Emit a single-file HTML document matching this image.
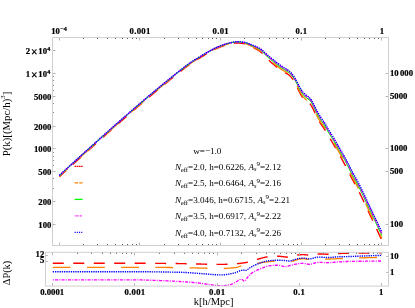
<!DOCTYPE html>
<html><head><meta charset="utf-8"><title>P(k)</title>
<style>html,body{margin:0;padding:0;background:#fff;}svg{display:block;font-family:"Liberation Serif",serif;will-change:transform;}.t{font-weight:bold;font-size:8.7px;fill:#000;stroke:#000;stroke-width:0.22px;}.s{font-weight:bold;font-size:6.1px;fill:#000;}.l{font-size:9.1px;fill:#000;}.a{font-size:10.5px;fill:#000;}</style></head><body>
<svg width="415" height="308" viewBox="0 0 415 308">
<rect x="0" y="0" width="415" height="308" fill="#fff"/>
<defs><clipPath id="ct"><rect x="52.5" y="37.5" width="336.0" height="208.0"/></clipPath><clipPath id="cb"><rect x="45.5" y="252.3" width="343.0" height="33.8"/></clipPath></defs>
<path d="M59.30,176.83 L59.76,176.40 L60.22,175.98 L60.68,175.56 L61.15,175.13 L61.61,174.71 L62.07,174.28 L62.53,173.86 L62.99,173.44 L63.45,173.01 L63.92,172.59 L64.38,172.16 L64.84,171.74 L65.30,171.32 L65.76,170.90 L66.22,170.47 L66.68,170.05 L67.15,169.63 L67.61,169.21 L68.07,168.78 L68.53,168.36 L68.99,167.94 L69.45,167.52 L69.91,167.10 L70.38,166.68 L70.84,166.25 L71.30,165.83 L71.76,165.41 L72.22,164.99 L72.68,164.57 L73.15,164.15 L73.61,163.73 L74.07,163.31 L74.53,162.89 L74.99,162.47 L75.45,162.05 L75.91,161.63 L76.38,161.21 L76.84,160.79 L77.30,160.37 L77.76,159.95 L78.22,159.53 L78.68,159.12 L79.15,158.70 L79.61,158.28 L80.07,157.86 L80.53,157.44 L80.99,157.02 L81.45,156.61 L81.91,156.19 L82.38,155.77 L82.84,155.35 L83.30,154.94 L83.76,154.52 L84.22,154.10 L84.68,153.69 L85.14,153.27 L85.61,152.85 L86.07,152.44 L86.53,152.02 L86.99,151.60 L87.45,151.19 L87.91,150.77 L88.38,150.36 L88.84,149.94 L89.30,149.52 L89.76,149.11 L90.22,148.69 L90.68,148.28 L91.14,147.86 L91.61,147.45 L92.07,147.03 L92.53,146.62 L92.99,146.21 L93.45,145.79 L93.91,145.38 L94.38,144.96 L94.84,144.55 L95.30,144.14 L95.76,143.72 L96.22,143.31 L96.68,142.90 L97.14,142.48 L97.61,142.07 L98.07,141.66 L98.53,141.24 L98.99,140.83 L99.45,140.42 L99.91,140.01 L100.37,139.59 L100.84,139.18 L101.30,138.77 L101.76,138.36 L102.22,137.95 L102.68,137.54 L103.14,137.12 L103.61,136.71 L104.07,136.30 L104.53,135.89 L104.99,135.48 L105.45,135.07 L105.91,134.66 L106.37,134.25 L106.84,133.83 L107.30,133.42 L107.76,133.01 L108.22,132.60 L108.68,132.19 L109.14,131.78 L109.61,131.37 L110.07,130.96 L110.53,130.55 L110.99,130.14 L111.45,129.73 L111.91,129.33 L112.37,128.92 L112.84,128.51 L113.30,128.10 L113.76,127.69 L114.22,127.28 L114.68,126.87 L115.14,126.47 L115.61,126.06 L116.07,125.65 L116.53,125.24 L116.99,124.84 L117.45,124.43 L117.91,124.02 L118.37,123.62 L118.84,123.21 L119.30,122.80 L119.76,122.40 L120.22,121.99 L120.68,121.59 L121.14,121.18 L121.60,120.78 L122.07,120.37 L122.53,119.97 L122.99,119.56 L123.45,119.16 L123.91,118.76 L124.37,118.35 L124.84,117.95 L125.30,117.55 L125.76,117.14 L126.22,116.74 L126.68,116.34 L127.14,115.94 L127.60,115.53 L128.07,115.13 L128.53,114.73 L128.99,114.33 L129.45,113.93 L129.91,113.53 L130.37,113.13 L130.84,112.73 L131.30,112.33 L131.76,111.93 L132.22,111.53 L132.68,111.13 L133.14,110.73 L133.60,110.34 L134.07,109.94 L134.53,109.54 L134.99,109.14 L135.45,108.74 L135.91,108.35 L136.37,107.95 L136.83,107.55 L137.30,107.16 L137.76,106.76 L138.22,106.36 L138.68,105.97 L139.14,105.57 L139.60,105.18 L140.07,104.78 L140.53,104.39 L140.99,103.99 L141.45,103.60 L141.91,103.20 L142.37,102.81 L142.83,102.41 L143.30,102.02 L143.76,101.63 L144.22,101.23 L144.68,100.84 L145.14,100.45 L145.60,100.06 L146.07,99.67 L146.53,99.27 L146.99,98.88 L147.45,98.49 L147.91,98.10 L148.37,97.71 L148.83,97.32 L149.30,96.93 L149.76,96.54 L150.22,96.15 L150.68,95.76 L151.14,95.37 L151.60,94.98 L152.06,94.60 L152.53,94.21 L152.99,93.82 L153.45,93.43 L153.91,93.05 L154.37,92.66 L154.83,92.28 L155.30,91.89 L155.76,91.50 L156.22,91.12 L156.68,90.74 L157.14,90.35 L157.60,89.97 L158.06,89.58 L158.53,89.20 L158.99,88.82 L159.45,88.44 L159.91,88.05 L160.37,87.67 L160.83,87.29 L161.30,86.91 L161.76,86.53 L162.22,86.14 L162.68,85.76 L163.14,85.38 L163.60,85.00 L164.06,84.62 L164.53,84.24 L164.99,83.86 L165.45,83.48 L165.91,83.11 L166.37,82.73 L166.83,82.35 L167.29,81.97 L167.76,81.60 L168.22,81.22 L168.68,80.84 L169.14,80.47 L169.60,80.09 L170.06,79.72 L170.53,79.34 L170.99,78.97 L171.45,78.60 L171.91,78.23 L172.37,77.86 L172.83,77.48 L173.29,77.11 L173.76,76.75 L174.22,76.38 L174.68,76.01 L175.14,75.64 L175.60,75.27 L176.06,74.91 L176.53,74.54 L176.99,74.18 L177.45,73.82 L177.91,73.45 L178.37,73.09 L178.83,72.73 L179.29,72.36 L179.76,72.00 L180.22,71.63 L180.68,71.27 L181.14,70.90 L181.60,70.54 L182.06,70.17 L182.52,69.81 L182.99,69.45 L183.45,69.09 L183.91,68.73 L184.37,68.37 L184.83,68.02 L185.29,67.66 L185.76,67.31 L186.22,66.96 L186.68,66.62 L187.14,66.27 L187.60,65.93 L188.06,65.60 L188.52,65.26 L188.99,64.93 L189.45,64.61 L189.91,64.28 L190.37,63.96 L190.83,63.65 L191.29,63.34 L191.76,63.03 L192.22,62.73 L192.68,62.43 L193.14,62.13 L193.60,61.84 L194.06,61.54 L194.52,61.25 L194.99,60.96 L195.45,60.67 L195.91,60.39 L196.37,60.10 L196.83,59.82 L197.29,59.53 L197.75,59.25 L198.22,58.96 L198.68,58.68 L199.14,58.39 L199.60,58.10 L200.06,57.82 L200.52,57.53 L200.99,57.24 L201.45,56.94 L201.91,56.65 L202.37,56.36 L202.83,56.08 L203.29,55.80 L203.75,55.52 L204.22,55.25 L204.68,54.98 L205.14,54.72 L205.60,54.46 L206.06,54.19 L206.52,53.93 L206.99,53.67 L207.45,53.41 L207.91,53.14 L208.37,52.88 L208.83,52.62 L209.29,52.36 L209.75,52.11 L210.22,51.85 L210.68,51.60 L211.14,51.35 L211.60,51.10 L212.06,50.85 L212.52,50.60 L212.98,50.36 L213.45,50.12 L213.91,49.88 L214.37,49.65 L214.83,49.41 L215.29,49.19 L215.75,48.96 L216.22,48.74 L216.68,48.52 L217.14,48.31 L217.60,48.10 L218.06,47.90 L218.52,47.70 L218.98,47.51 L219.45,47.32 L219.91,47.13 L220.37,46.95 L220.83,46.78 L221.29,46.60 L221.75,46.43 L222.22,46.26 L222.68,46.09 L223.14,45.92 L223.60,45.76 L224.06,45.60 L224.52,45.44 L224.98,45.29 L225.45,45.14 L225.91,44.99 L226.37,44.85 L226.83,44.72 L227.29,44.59 L227.75,44.47 L228.22,44.35 L228.68,44.24 L229.14,44.14 L229.60,44.04 L230.06,43.95 L230.52,43.86 L230.98,43.77 L231.45,43.68 L231.91,43.59 L232.37,43.51 L232.83,43.42 L233.29,43.34 L233.75,43.27 L234.21,43.20 L234.68,43.14 L235.14,43.08 L235.60,43.04 L236.06,43.00 L236.52,42.98 L236.98,42.97 L237.45,42.97 L237.91,42.99 L238.37,43.01 L238.83,43.03 L239.29,43.07 L239.75,43.11 L240.21,43.15 L240.68,43.20 L241.14,43.26 L241.60,43.32 L242.06,43.39 L242.52,43.45 L242.98,43.52 L243.45,43.59 L243.91,43.67 L244.37,43.75 L244.83,43.85 L245.29,43.97 L245.75,44.10 L246.21,44.26 L246.68,44.43 L247.14,44.60 L247.60,44.78 L248.06,44.96 L248.52,45.16 L248.98,45.37 L249.44,45.59 L249.91,45.81 L250.37,46.03 L250.83,46.25 L251.29,46.46 L251.75,46.68 L252.21,46.90 L252.68,47.12 L253.14,47.35 L253.60,47.57 L254.06,47.80 L254.52,48.04 L254.98,48.27 L255.44,48.52 L255.91,48.77 L256.37,49.03 L256.83,49.30 L257.29,49.57 L257.75,49.85 L258.21,50.14 L258.68,50.44 L259.14,50.75 L259.60,51.06 L260.06,51.39 L260.52,51.74 L260.98,52.13 L261.44,52.55 L261.91,52.99 L262.37,53.45 L262.83,53.94 L263.29,54.44 L263.75,54.95 L264.21,55.46 L264.67,55.98 L265.14,56.50 L265.60,57.01 L266.06,57.52 L266.52,58.01 L266.98,58.48 L267.44,58.94 L267.91,59.38 L268.37,59.82 L268.83,60.25 L269.29,60.68 L269.75,61.10 L270.21,61.51 L270.67,61.91 L271.14,62.32 L271.60,62.72 L272.06,63.12 L272.52,63.52 L272.98,63.92 L273.44,64.31 L273.91,64.70 L274.37,65.09 L274.83,65.48 L275.29,65.86 L275.75,66.24 L276.21,66.63 L276.67,67.00 L277.14,67.38 L277.60,67.75 L278.06,68.11 L278.52,68.47 L278.98,68.83 L279.44,69.18 L279.90,69.52 L280.37,69.85 L280.83,70.18 L281.29,70.50 L281.75,70.81 L282.21,71.10 L282.67,71.38 L283.14,71.65 L283.60,71.90 L284.06,72.15 L284.52,72.39 L284.98,72.63 L285.44,72.87 L285.90,73.11 L286.37,73.35 L286.83,73.61 L287.29,73.87 L287.75,74.15 L288.21,74.45 L288.67,74.77 L289.14,75.12 L289.60,75.50 L290.06,75.91 L290.52,76.37 L290.98,76.86 L291.44,77.39 L291.90,77.96 L292.37,78.56 L292.83,79.21 L293.29,79.90 L293.75,80.65 L294.21,81.45 L294.67,82.30 L295.13,83.19 L295.60,84.10 L296.06,85.02 L296.52,85.94 L296.98,86.87 L297.44,87.84 L297.90,88.84 L298.37,89.85 L298.83,90.84 L299.29,91.77 L299.75,92.65 L300.21,93.53 L300.67,94.38 L301.13,95.21 L301.60,95.99 L302.06,96.73 L302.52,97.40 L302.98,97.99 L303.44,98.52 L303.90,99.01 L304.37,99.45 L304.83,99.87 L305.29,100.27 L305.75,100.66 L306.21,101.05 L306.67,101.41 L307.13,101.73 L307.60,102.04 L308.06,102.33 L308.52,102.64 L308.98,102.97 L309.44,103.33 L309.90,103.74 L310.36,104.22 L310.83,104.80 L311.29,105.50 L311.75,106.30 L312.21,107.16 L312.67,108.07 L313.13,108.99 L313.60,109.91 L314.06,110.88 L314.52,111.89 L314.98,112.92 L315.44,113.97 L315.90,115.01 L316.36,116.02 L316.83,116.99 L317.29,117.90 L317.75,118.78 L318.21,119.63 L318.67,120.45 L319.13,121.24 L319.60,122.01 L320.06,122.74 L320.52,123.47 L320.98,124.18 L321.44,124.86 L321.90,125.53 L322.36,126.18 L322.83,126.82 L323.29,127.47 L323.75,128.13 L324.21,128.80 L324.67,129.50 L325.13,130.23 L325.59,131.02 L326.06,131.84 L326.52,132.66 L326.98,133.45 L327.44,134.23 L327.90,135.00 L328.36,135.77 L328.83,136.54 L329.29,137.30 L329.75,138.06 L330.21,138.83 L330.67,139.60 L331.13,140.37 L331.59,141.14 L332.06,141.92 L332.52,142.70 L332.98,143.49 L333.44,144.28 L333.90,145.07 L334.36,145.87 L334.83,146.67 L335.29,147.48 L335.75,148.30 L336.21,149.12 L336.67,149.95 L337.13,150.77 L337.59,151.60 L338.06,152.42 L338.52,153.24 L338.98,154.06 L339.44,154.87 L339.90,155.69 L340.36,156.50 L340.83,157.32 L341.29,158.14 L341.75,158.96 L342.21,159.79 L342.67,160.62 L343.13,161.46 L343.59,162.29 L344.06,163.14 L344.52,163.99 L344.98,164.84 L345.44,165.70 L345.90,166.56 L346.36,167.44 L346.82,168.33 L347.29,169.23 L347.75,170.15 L348.21,171.08 L348.67,172.02 L349.13,172.96 L349.59,173.90 L350.06,174.83 L350.52,175.76 L350.98,176.68 L351.44,177.59 L351.90,178.48 L352.36,179.34 L352.82,180.19 L353.29,181.03 L353.75,181.85 L354.21,182.67 L354.67,183.49 L355.13,184.30 L355.59,185.13 L356.06,185.96 L356.52,186.81 L356.98,187.67 L357.44,188.56 L357.90,189.46 L358.36,190.36 L358.82,191.28 L359.29,192.20 L359.75,193.14 L360.21,194.08 L360.67,195.02 L361.13,195.97 L361.59,196.93 L362.05,197.90 L362.52,198.87 L362.98,199.84 L363.44,200.82 L363.90,201.80 L364.36,202.78 L364.82,203.77 L365.29,204.75 L365.75,205.74 L366.21,206.73 L366.67,207.72 L367.13,208.71 L367.59,209.70 L368.05,210.69 L368.52,211.68 L368.98,212.66 L369.44,213.65 L369.90,214.63 L370.36,215.60 L370.82,216.58 L371.29,217.56 L371.75,218.54 L372.21,219.53 L372.67,220.51 L373.13,221.50 L373.59,222.48 L374.05,223.47 L374.52,224.46 L374.98,225.45 L375.44,226.44 L375.90,227.43 L376.36,228.42 L376.82,229.41 L377.28,230.41 L377.75,231.40 L378.21,232.40 L378.67,233.40 L379.13,234.39 L379.59,235.39 L380.05,236.39 L380.52,237.39 L380.98,238.40 L381.44,239.40 L381.90,240.40" fill="none" stroke="#ff0000" stroke-width="1.4" stroke-dasharray="11 9.33" stroke-dashoffset="2.0" clip-path="url(#ct)"/>
<path d="M59.30,176.45 L59.76,176.02 L60.22,175.60 L60.68,175.17 L61.15,174.75 L61.61,174.32 L62.07,173.90 L62.53,173.48 L62.99,173.05 L63.45,172.63 L63.92,172.20 L64.38,171.78 L64.84,171.36 L65.30,170.93 L65.76,170.51 L66.22,170.09 L66.68,169.67 L67.15,169.24 L67.61,168.82 L68.07,168.40 L68.53,167.98 L68.99,167.56 L69.45,167.13 L69.91,166.71 L70.38,166.29 L70.84,165.87 L71.30,165.45 L71.76,165.03 L72.22,164.61 L72.68,164.19 L73.15,163.77 L73.61,163.35 L74.07,162.93 L74.53,162.51 L74.99,162.09 L75.45,161.67 L75.91,161.25 L76.38,160.83 L76.84,160.41 L77.30,159.99 L77.76,159.57 L78.22,159.15 L78.68,158.73 L79.15,158.31 L79.61,157.89 L80.07,157.48 L80.53,157.06 L80.99,156.64 L81.45,156.22 L81.91,155.80 L82.38,155.39 L82.84,154.97 L83.30,154.55 L83.76,154.14 L84.22,153.72 L84.68,153.30 L85.14,152.88 L85.61,152.47 L86.07,152.05 L86.53,151.64 L86.99,151.22 L87.45,150.80 L87.91,150.39 L88.38,149.97 L88.84,149.56 L89.30,149.14 L89.76,148.73 L90.22,148.31 L90.68,147.90 L91.14,147.48 L91.61,147.07 L92.07,146.65 L92.53,146.24 L92.99,145.82 L93.45,145.41 L93.91,144.99 L94.38,144.58 L94.84,144.17 L95.30,143.75 L95.76,143.34 L96.22,142.93 L96.68,142.51 L97.14,142.10 L97.61,141.69 L98.07,141.27 L98.53,140.86 L98.99,140.45 L99.45,140.04 L99.91,139.62 L100.37,139.21 L100.84,138.80 L101.30,138.39 L101.76,137.97 L102.22,137.56 L102.68,137.15 L103.14,136.74 L103.61,136.33 L104.07,135.92 L104.53,135.51 L104.99,135.09 L105.45,134.68 L105.91,134.27 L106.37,133.86 L106.84,133.45 L107.30,133.04 L107.76,132.63 L108.22,132.22 L108.68,131.81 L109.14,131.40 L109.61,130.99 L110.07,130.58 L110.53,130.17 L110.99,129.76 L111.45,129.35 L111.91,128.94 L112.37,128.53 L112.84,128.12 L113.30,127.72 L113.76,127.31 L114.22,126.90 L114.68,126.49 L115.14,126.08 L115.61,125.68 L116.07,125.27 L116.53,124.86 L116.99,124.45 L117.45,124.05 L117.91,123.64 L118.37,123.23 L118.84,122.83 L119.30,122.42 L119.76,122.01 L120.22,121.61 L120.68,121.20 L121.14,120.80 L121.60,120.39 L122.07,119.99 L122.53,119.58 L122.99,119.18 L123.45,118.78 L123.91,118.37 L124.37,117.97 L124.84,117.56 L125.30,117.16 L125.76,116.76 L126.22,116.36 L126.68,115.95 L127.14,115.55 L127.60,115.15 L128.07,114.75 L128.53,114.35 L128.99,113.95 L129.45,113.55 L129.91,113.15 L130.37,112.74 L130.84,112.35 L131.30,111.95 L131.76,111.55 L132.22,111.15 L132.68,110.75 L133.14,110.35 L133.60,109.95 L134.07,109.55 L134.53,109.16 L134.99,108.76 L135.45,108.36 L135.91,107.96 L136.37,107.57 L136.83,107.17 L137.30,106.77 L137.76,106.38 L138.22,105.98 L138.68,105.58 L139.14,105.19 L139.60,104.79 L140.07,104.40 L140.53,104.00 L140.99,103.61 L141.45,103.21 L141.91,102.82 L142.37,102.43 L142.83,102.03 L143.30,101.64 L143.76,101.25 L144.22,100.85 L144.68,100.46 L145.14,100.07 L145.60,99.68 L146.07,99.28 L146.53,98.89 L146.99,98.50 L147.45,98.11 L147.91,97.72 L148.37,97.33 L148.83,96.94 L149.30,96.55 L149.76,96.16 L150.22,95.77 L150.68,95.38 L151.14,94.99 L151.60,94.61 L152.06,94.22 L152.53,93.83 L152.99,93.44 L153.45,93.06 L153.91,92.67 L154.37,92.28 L154.83,91.90 L155.30,91.51 L155.76,91.13 L156.22,90.74 L156.68,90.36 L157.14,89.98 L157.60,89.59 L158.06,89.21 L158.53,88.83 L158.99,88.44 L159.45,88.06 L159.91,87.68 L160.37,87.30 L160.83,86.92 L161.30,86.53 L161.76,86.15 L162.22,85.77 L162.68,85.39 L163.14,85.01 L163.60,84.63 L164.06,84.25 L164.53,83.87 L164.99,83.49 L165.45,83.12 L165.91,82.74 L166.37,82.36 L166.83,81.98 L167.29,81.60 L167.76,81.23 L168.22,80.85 L168.68,80.48 L169.14,80.10 L169.60,79.73 L170.06,79.35 L170.53,78.98 L170.99,78.61 L171.45,78.23 L171.91,77.86 L172.37,77.49 L172.83,77.12 L173.29,76.75 L173.76,76.38 L174.22,76.01 L174.68,75.65 L175.14,75.28 L175.60,74.91 L176.06,74.55 L176.53,74.18 L176.99,73.82 L177.45,73.46 L177.91,73.09 L178.37,72.73 L178.83,72.37 L179.29,72.00 L179.76,71.64 L180.22,71.28 L180.68,70.91 L181.14,70.55 L181.60,70.18 L182.06,69.82 L182.52,69.46 L182.99,69.10 L183.45,68.74 L183.91,68.38 L184.37,68.02 L184.83,67.67 L185.29,67.31 L185.76,66.96 L186.22,66.61 L186.68,66.27 L187.14,65.92 L187.60,65.58 L188.06,65.25 L188.52,64.91 L188.99,64.58 L189.45,64.26 L189.91,63.93 L190.37,63.62 L190.83,63.30 L191.29,62.99 L191.76,62.69 L192.22,62.38 L192.68,62.08 L193.14,61.79 L193.60,61.49 L194.06,61.20 L194.52,60.91 L194.99,60.62 L195.45,60.33 L195.91,60.05 L196.37,59.76 L196.83,59.48 L197.29,59.19 L197.75,58.91 L198.22,58.62 L198.68,58.34 L199.14,58.05 L199.60,57.77 L200.06,57.48 L200.52,57.19 L200.99,56.90 L201.45,56.61 L201.91,56.32 L202.37,56.03 L202.83,55.74 L203.29,55.46 L203.75,55.19 L204.22,54.91 L204.68,54.65 L205.14,54.39 L205.60,54.12 L206.06,53.86 L206.52,53.60 L206.99,53.34 L207.45,53.08 L207.91,52.82 L208.37,52.55 L208.83,52.30 L209.29,52.04 L209.75,51.78 L210.22,51.53 L210.68,51.27 L211.14,51.02 L211.60,50.77 L212.06,50.52 L212.52,50.28 L212.98,50.03 L213.45,49.79 L213.91,49.56 L214.37,49.32 L214.83,49.09 L215.29,48.86 L215.75,48.64 L216.22,48.42 L216.68,48.20 L217.14,47.99 L217.60,47.78 L218.06,47.58 L218.52,47.38 L218.98,47.18 L219.45,46.99 L219.91,46.81 L220.37,46.63 L220.83,46.45 L221.29,46.28 L221.75,46.11 L222.22,45.93 L222.68,45.77 L223.14,45.60 L223.60,45.44 L224.06,45.27 L224.52,45.12 L224.98,44.96 L225.45,44.81 L225.91,44.67 L226.37,44.53 L226.83,44.39 L227.29,44.26 L227.75,44.14 L228.22,44.02 L228.68,43.91 L229.14,43.81 L229.60,43.71 L230.06,43.62 L230.52,43.54 L230.98,43.45 L231.45,43.36 L231.91,43.27 L232.37,43.18 L232.83,43.10 L233.29,43.02 L233.75,42.94 L234.21,42.87 L234.68,42.81 L235.14,42.76 L235.60,42.71 L236.06,42.68 L236.52,42.65 L236.98,42.64 L237.45,42.65 L237.91,42.66 L238.37,42.68 L238.83,42.71 L239.29,42.74 L239.75,42.79 L240.21,42.84 L240.68,42.89 L241.14,42.95 L241.60,43.02 L242.06,43.10 L242.52,43.19 L242.98,43.27 L243.45,43.35 L243.91,43.41 L244.37,43.48 L244.83,43.57 L245.29,43.68 L245.75,43.81 L246.21,43.95 L246.68,44.10 L247.14,44.26 L247.60,44.42 L248.06,44.60 L248.52,44.78 L248.98,44.98 L249.44,45.18 L249.91,45.39 L250.37,45.60 L250.83,45.82 L251.29,46.04 L251.75,46.26 L252.21,46.49 L252.68,46.71 L253.14,46.93 L253.60,47.14 L254.06,47.36 L254.52,47.58 L254.98,47.81 L255.44,48.04 L255.91,48.28 L256.37,48.52 L256.83,48.77 L257.29,49.03 L257.75,49.29 L258.21,49.56 L258.68,49.84 L259.14,50.13 L259.60,50.43 L260.06,50.74 L260.52,51.07 L260.98,51.44 L261.44,51.84 L261.91,52.26 L262.37,52.70 L262.83,53.16 L263.29,53.63 L263.75,54.11 L264.21,54.60 L264.67,55.09 L265.14,55.58 L265.60,56.07 L266.06,56.55 L266.52,57.01 L266.98,57.46 L267.44,57.89 L267.91,58.31 L268.37,58.73 L268.83,59.15 L269.29,59.56 L269.75,59.96 L270.21,60.36 L270.67,60.76 L271.14,61.16 L271.60,61.56 L272.06,61.95 L272.52,62.34 L272.98,62.73 L273.44,63.12 L273.91,63.50 L274.37,63.88 L274.83,64.26 L275.29,64.64 L275.75,65.01 L276.21,65.39 L276.67,65.76 L277.14,66.13 L277.60,66.50 L278.06,66.86 L278.52,67.22 L278.98,67.57 L279.44,67.93 L279.90,68.27 L280.37,68.61 L280.83,68.95 L281.29,69.28 L281.75,69.60 L282.21,69.92 L282.67,70.21 L283.14,70.50 L283.60,70.77 L284.06,71.04 L284.52,71.29 L284.98,71.55 L285.44,71.81 L285.90,72.07 L286.37,72.33 L286.83,72.60 L287.29,72.88 L287.75,73.17 L288.21,73.48 L288.67,73.81 L289.14,74.16 L289.60,74.54 L290.06,74.96 L290.52,75.41 L290.98,75.89 L291.44,76.41 L291.90,76.95 L292.37,77.53 L292.83,78.15 L293.29,78.79 L293.75,79.51 L294.21,80.28 L294.67,81.09 L295.13,81.94 L295.60,82.82 L296.06,83.72 L296.52,84.62 L296.98,85.52 L297.44,86.47 L297.90,87.46 L298.37,88.46 L298.83,89.44 L299.29,90.36 L299.75,91.25 L300.21,92.14 L300.67,93.00 L301.13,93.82 L301.60,94.60 L302.06,95.34 L302.52,96.01 L302.98,96.60 L303.44,97.14 L303.90,97.63 L304.37,98.08 L304.83,98.51 L305.29,98.92 L305.75,99.32 L306.21,99.72 L306.67,100.08 L307.13,100.41 L307.60,100.71 L308.06,101.00 L308.52,101.30 L308.98,101.62 L309.44,101.98 L309.90,102.38 L310.36,102.86 L310.83,103.44 L311.29,104.13 L311.75,104.93 L312.21,105.79 L312.67,106.69 L313.13,107.60 L313.60,108.50 L314.06,109.46 L314.52,110.46 L314.98,111.48 L315.44,112.51 L315.90,113.54 L316.36,114.54 L316.83,115.49 L317.29,116.39 L317.75,117.26 L318.21,118.10 L318.67,118.91 L319.13,119.70 L319.60,120.46 L320.06,121.19 L320.52,121.91 L320.98,122.62 L321.44,123.29 L321.90,123.94 L322.36,124.57 L322.83,125.19 L323.29,125.82 L323.75,126.45 L324.21,127.11 L324.67,127.79 L325.13,128.51 L325.59,129.29 L326.06,130.11 L326.52,130.93 L326.98,131.73 L327.44,132.52 L327.90,133.30 L328.36,134.07 L328.83,134.84 L329.29,135.61 L329.75,136.38 L330.21,137.14 L330.67,137.91 L331.13,138.67 L331.59,139.43 L332.06,140.20 L332.52,140.97 L332.98,141.74 L333.44,142.51 L333.90,143.29 L334.36,144.07 L334.83,144.85 L335.29,145.64 L335.75,146.44 L336.21,147.24 L336.67,148.05 L337.13,148.86 L337.59,149.67 L338.06,150.47 L338.52,151.28 L338.98,152.09 L339.44,152.90 L339.90,153.71 L340.36,154.52 L340.83,155.34 L341.29,156.16 L341.75,156.98 L342.21,157.80 L342.67,158.63 L343.13,159.46 L343.59,160.30 L344.06,161.14 L344.52,161.99 L344.98,162.84 L345.44,163.70 L345.90,164.56 L346.36,165.44 L346.82,166.33 L347.29,167.23 L347.75,168.15 L348.21,169.08 L348.67,170.02 L349.13,170.96 L349.59,171.90 L350.06,172.84 L350.52,173.77 L350.98,174.69 L351.44,175.59 L351.90,176.48 L352.36,177.35 L352.82,178.20 L353.29,179.04 L353.75,179.87 L354.21,180.69 L354.67,181.50 L355.13,182.32 L355.59,183.14 L356.06,183.98 L356.52,184.83 L356.98,185.69 L357.44,186.58 L357.90,187.48 L358.36,188.39 L358.82,189.30 L359.29,190.23 L359.75,191.16 L360.21,192.10 L360.67,193.05 L361.13,194.00 L361.59,194.96 L362.05,195.92 L362.52,196.89 L362.98,197.86 L363.44,198.84 L363.90,199.82 L364.36,200.80 L364.82,201.79 L365.29,202.78 L365.75,203.77 L366.21,204.75 L366.67,205.74 L367.13,206.73 L367.59,207.72 L368.05,208.71 L368.52,209.70 L368.98,210.68 L369.44,211.67 L369.90,212.65 L370.36,213.63 L370.82,214.60 L371.29,215.58 L371.75,216.57 L372.21,217.55 L372.67,218.53 L373.13,219.52 L373.59,220.50 L374.05,221.49 L374.52,222.48 L374.98,223.46 L375.44,224.45 L375.90,225.44 L376.36,226.44 L376.82,227.43 L377.28,228.42 L377.75,229.42 L378.21,230.41 L378.67,231.41 L379.13,232.41 L379.59,233.41 L380.05,234.41 L380.52,235.41 L380.98,236.41 L381.44,237.41 L381.90,238.42" fill="none" stroke="#ff8000" stroke-width="1.3" stroke-dasharray="17.8 16.4" stroke-dashoffset="6.5" clip-path="url(#ct)"/>
<path d="M59.30,175.76 L59.76,175.34 L60.22,174.91 L60.68,174.49 L61.15,174.07 L61.61,173.64 L62.07,173.22 L62.53,172.79 L62.99,172.37 L63.45,171.95 L63.92,171.52 L64.38,171.10 L64.84,170.68 L65.30,170.25 L65.76,169.83 L66.22,169.41 L66.68,168.98 L67.15,168.56 L67.61,168.14 L68.07,167.72 L68.53,167.30 L68.99,166.87 L69.45,166.45 L69.91,166.03 L70.38,165.61 L70.84,165.19 L71.30,164.77 L71.76,164.35 L72.22,163.93 L72.68,163.51 L73.15,163.08 L73.61,162.66 L74.07,162.24 L74.53,161.82 L74.99,161.40 L75.45,160.98 L75.91,160.56 L76.38,160.15 L76.84,159.73 L77.30,159.31 L77.76,158.89 L78.22,158.47 L78.68,158.05 L79.15,157.63 L79.61,157.21 L80.07,156.80 L80.53,156.38 L80.99,155.96 L81.45,155.54 L81.91,155.12 L82.38,154.71 L82.84,154.29 L83.30,153.87 L83.76,153.45 L84.22,153.04 L84.68,152.62 L85.14,152.20 L85.61,151.79 L86.07,151.37 L86.53,150.95 L86.99,150.54 L87.45,150.12 L87.91,149.71 L88.38,149.29 L88.84,148.87 L89.30,148.46 L89.76,148.04 L90.22,147.63 L90.68,147.21 L91.14,146.80 L91.61,146.38 L92.07,145.97 L92.53,145.56 L92.99,145.14 L93.45,144.73 L93.91,144.31 L94.38,143.90 L94.84,143.48 L95.30,143.07 L95.76,142.66 L96.22,142.24 L96.68,141.83 L97.14,141.42 L97.61,141.00 L98.07,140.59 L98.53,140.18 L98.99,139.77 L99.45,139.35 L99.91,138.94 L100.37,138.53 L100.84,138.12 L101.30,137.71 L101.76,137.29 L102.22,136.88 L102.68,136.47 L103.14,136.06 L103.61,135.65 L104.07,135.24 L104.53,134.82 L104.99,134.41 L105.45,134.00 L105.91,133.59 L106.37,133.18 L106.84,132.77 L107.30,132.36 L107.76,131.95 L108.22,131.54 L108.68,131.13 L109.14,130.72 L109.61,130.31 L110.07,129.90 L110.53,129.49 L110.99,129.08 L111.45,128.67 L111.91,128.26 L112.37,127.85 L112.84,127.44 L113.30,127.03 L113.76,126.63 L114.22,126.22 L114.68,125.81 L115.14,125.40 L115.61,124.99 L116.07,124.59 L116.53,124.18 L116.99,123.77 L117.45,123.36 L117.91,122.96 L118.37,122.55 L118.84,122.15 L119.30,121.74 L119.76,121.33 L120.22,120.93 L120.68,120.52 L121.14,120.12 L121.60,119.71 L122.07,119.31 L122.53,118.90 L122.99,118.50 L123.45,118.09 L123.91,117.69 L124.37,117.29 L124.84,116.88 L125.30,116.48 L125.76,116.08 L126.22,115.67 L126.68,115.27 L127.14,114.87 L127.60,114.47 L128.07,114.07 L128.53,113.67 L128.99,113.26 L129.45,112.86 L129.91,112.46 L130.37,112.06 L130.84,111.66 L131.30,111.26 L131.76,110.86 L132.22,110.47 L132.68,110.07 L133.14,109.67 L133.60,109.27 L134.07,108.87 L134.53,108.47 L134.99,108.08 L135.45,107.68 L135.91,107.28 L136.37,106.89 L136.83,106.49 L137.30,106.09 L137.76,105.70 L138.22,105.30 L138.68,104.90 L139.14,104.51 L139.60,104.11 L140.07,103.72 L140.53,103.32 L140.99,102.93 L141.45,102.53 L141.91,102.14 L142.37,101.75 L142.83,101.35 L143.30,100.96 L143.76,100.57 L144.22,100.17 L144.68,99.78 L145.14,99.39 L145.60,99.00 L146.07,98.60 L146.53,98.21 L146.99,97.82 L147.45,97.43 L147.91,97.04 L148.37,96.65 L148.83,96.26 L149.30,95.87 L149.76,95.48 L150.22,95.09 L150.68,94.70 L151.14,94.32 L151.60,93.93 L152.06,93.54 L152.53,93.15 L152.99,92.77 L153.45,92.38 L153.91,91.99 L154.37,91.61 L154.83,91.22 L155.30,90.84 L155.76,90.45 L156.22,90.07 L156.68,89.68 L157.14,89.30 L157.60,88.92 L158.06,88.54 L158.53,88.15 L158.99,87.77 L159.45,87.39 L159.91,87.01 L160.37,86.63 L160.83,86.24 L161.30,85.86 L161.76,85.48 L162.22,85.10 L162.68,84.72 L163.14,84.34 L163.60,83.96 L164.06,83.58 L164.53,83.20 L164.99,82.82 L165.45,82.45 L165.91,82.07 L166.37,81.69 L166.83,81.31 L167.29,80.94 L167.76,80.56 L168.22,80.19 L168.68,79.81 L169.14,79.44 L169.60,79.06 L170.06,78.69 L170.53,78.31 L170.99,77.94 L171.45,77.57 L171.91,77.20 L172.37,76.83 L172.83,76.46 L173.29,76.09 L173.76,75.72 L174.22,75.35 L174.68,74.99 L175.14,74.62 L175.60,74.25 L176.06,73.89 L176.53,73.52 L176.99,73.16 L177.45,72.80 L177.91,72.43 L178.37,72.07 L178.83,71.71 L179.29,71.35 L179.76,70.98 L180.22,70.62 L180.68,70.25 L181.14,69.89 L181.60,69.53 L182.06,69.16 L182.52,68.80 L182.99,68.44 L183.45,68.08 L183.91,67.72 L184.37,67.37 L184.83,67.01 L185.29,66.66 L185.76,66.31 L186.22,65.96 L186.68,65.62 L187.14,65.27 L187.60,64.93 L188.06,64.60 L188.52,64.26 L188.99,63.94 L189.45,63.61 L189.91,63.29 L190.37,62.97 L190.83,62.66 L191.29,62.35 L191.76,62.04 L192.22,61.74 L192.68,61.44 L193.14,61.15 L193.60,60.85 L194.06,60.56 L194.52,60.27 L194.99,59.98 L195.45,59.70 L195.91,59.41 L196.37,59.13 L196.83,58.84 L197.29,58.56 L197.75,58.28 L198.22,58.00 L198.68,57.71 L199.14,57.43 L199.60,57.14 L200.06,56.86 L200.52,56.57 L200.99,56.28 L201.45,55.99 L201.91,55.70 L202.37,55.41 L202.83,55.13 L203.29,54.85 L203.75,54.57 L204.22,54.30 L204.68,54.04 L205.14,53.78 L205.60,53.52 L206.06,53.25 L206.52,52.99 L206.99,52.73 L207.45,52.47 L207.91,52.21 L208.37,51.95 L208.83,51.69 L209.29,51.44 L209.75,51.18 L210.22,50.93 L210.68,50.67 L211.14,50.42 L211.60,50.17 L212.06,49.93 L212.52,49.68 L212.98,49.44 L213.45,49.20 L213.91,48.97 L214.37,48.73 L214.83,48.50 L215.29,48.28 L215.75,48.05 L216.22,47.83 L216.68,47.62 L217.14,47.40 L217.60,47.20 L218.06,46.99 L218.52,46.80 L218.98,46.60 L219.45,46.41 L219.91,46.23 L220.37,46.05 L220.83,45.87 L221.29,45.70 L221.75,45.53 L222.22,45.36 L222.68,45.19 L223.14,45.02 L223.60,44.86 L224.06,44.70 L224.52,44.54 L224.98,44.39 L225.45,44.24 L225.91,44.09 L226.37,43.95 L226.83,43.82 L227.29,43.69 L227.75,43.56 L228.22,43.45 L228.68,43.33 L229.14,43.23 L229.60,43.13 L230.06,43.04 L230.52,42.95 L230.98,42.85 L231.45,42.76 L231.91,42.67 L232.37,42.58 L232.83,42.49 L233.29,42.41 L233.75,42.33 L234.21,42.26 L234.68,42.19 L235.14,42.13 L235.60,42.08 L236.06,42.05 L236.52,42.02 L236.98,42.00 L237.45,42.00 L237.91,42.01 L238.37,42.03 L238.83,42.05 L239.29,42.08 L239.75,42.11 L240.21,42.16 L240.68,42.20 L241.14,42.25 L241.60,42.31 L242.06,42.37 L242.52,42.43 L242.98,42.49 L243.45,42.55 L243.91,42.62 L244.37,42.69 L244.83,42.78 L245.29,42.89 L245.75,43.02 L246.21,43.16 L246.68,43.32 L247.14,43.48 L247.60,43.64 L248.06,43.82 L248.52,44.00 L248.98,44.20 L249.44,44.41 L249.91,44.62 L250.37,44.82 L250.83,45.02 L251.29,45.21 L251.75,45.41 L252.21,45.61 L252.68,45.81 L253.14,46.01 L253.60,46.21 L254.06,46.41 L254.52,46.61 L254.98,46.82 L255.44,47.03 L255.91,47.25 L256.37,47.48 L256.83,47.71 L257.29,47.95 L257.75,48.19 L258.21,48.45 L258.68,48.71 L259.14,48.99 L259.60,49.27 L260.06,49.56 L260.52,49.88 L260.98,50.23 L261.44,50.61 L261.91,51.02 L262.37,51.44 L262.83,51.89 L263.29,52.35 L263.75,52.82 L264.21,53.29 L264.67,53.77 L265.14,54.24 L265.60,54.72 L266.06,55.18 L266.52,55.63 L266.98,56.07 L267.44,56.49 L267.91,56.90 L268.37,57.30 L268.83,57.71 L269.29,58.10 L269.75,58.50 L270.21,58.89 L270.67,59.28 L271.14,59.66 L271.60,60.05 L272.06,60.43 L272.52,60.81 L272.98,61.19 L273.44,61.56 L273.91,61.94 L274.37,62.31 L274.83,62.68 L275.29,63.05 L275.75,63.42 L276.21,63.79 L276.67,64.15 L277.14,64.51 L277.60,64.88 L278.06,65.23 L278.52,65.59 L278.98,65.94 L279.44,66.29 L279.90,66.63 L280.37,66.96 L280.83,67.30 L281.29,67.62 L281.75,67.95 L282.21,68.26 L282.67,68.56 L283.14,68.84 L283.60,69.12 L284.06,69.38 L284.52,69.65 L284.98,69.91 L285.44,70.17 L285.90,70.43 L286.37,70.70 L286.83,70.97 L287.29,71.26 L287.75,71.56 L288.21,71.87 L288.67,72.21 L289.14,72.56 L289.60,72.95 L290.06,73.37 L290.52,73.83 L290.98,74.32 L291.44,74.83 L291.90,75.38 L292.37,75.97 L292.83,76.58 L293.29,77.23 L293.75,77.93 L294.21,78.69 L294.67,79.49 L295.13,80.31 L295.60,81.16 L296.06,82.03 L296.52,82.89 L296.98,83.76 L297.44,84.66 L297.90,85.61 L298.37,86.56 L298.83,87.50 L299.29,88.38 L299.75,89.23 L300.21,90.08 L300.67,90.91 L301.13,91.70 L301.60,92.46 L302.06,93.17 L302.52,93.82 L302.98,94.39 L303.44,94.90 L303.90,95.37 L304.37,95.81 L304.83,96.22 L305.29,96.62 L305.75,97.02 L306.21,97.43 L306.67,97.80 L307.13,98.15 L307.60,98.48 L308.06,98.80 L308.52,99.13 L308.98,99.48 L309.44,99.87 L309.90,100.29 L310.36,100.78 L310.83,101.35 L311.29,102.04 L311.75,102.83 L312.21,103.67 L312.67,104.56 L313.13,105.45 L313.60,106.34 L314.06,107.27 L314.52,108.24 L314.98,109.24 L315.44,110.25 L315.90,111.25 L316.36,112.22 L316.83,113.15 L317.29,114.03 L317.75,114.88 L318.21,115.70 L318.67,116.49 L319.13,117.27 L319.60,118.02 L320.06,118.76 L320.52,119.48 L320.98,120.19 L321.44,120.88 L321.90,121.55 L322.36,122.21 L322.83,122.86 L323.29,123.51 L323.75,124.18 L324.21,124.86 L324.67,125.57 L325.13,126.31 L325.59,127.10 L326.06,127.93 L326.52,128.76 L326.98,129.56 L327.44,130.34 L327.90,131.12 L328.36,131.89 L328.83,132.66 L329.29,133.43 L329.75,134.19 L330.21,134.95 L330.67,135.71 L331.13,136.47 L331.59,137.23 L332.06,137.99 L332.52,138.76 L332.98,139.52 L333.44,140.29 L333.90,141.06 L334.36,141.83 L334.83,142.61 L335.29,143.40 L335.75,144.18 L336.21,144.98 L336.67,145.78 L337.13,146.58 L337.59,147.38 L338.06,148.18 L338.52,148.99 L338.98,149.79 L339.44,150.59 L339.90,151.39 L340.36,152.20 L340.83,153.01 L341.29,153.82 L341.75,154.63 L342.21,155.45 L342.67,156.27 L343.13,157.10 L343.59,157.93 L344.06,158.77 L344.52,159.61 L344.98,160.46 L345.44,161.31 L345.90,162.17 L346.36,163.03 L346.82,163.92 L347.29,164.82 L347.75,165.73 L348.21,166.66 L348.67,167.59 L349.13,168.52 L349.59,169.46 L350.06,170.39 L350.52,171.31 L350.98,172.23 L351.44,173.13 L351.90,174.01 L352.36,174.87 L352.82,175.72 L353.29,176.55 L353.75,177.37 L354.21,178.18 L354.67,178.99 L355.13,179.81 L355.59,180.62 L356.06,181.45 L356.52,182.30 L356.98,183.16 L357.44,184.04 L357.90,184.93 L358.36,185.83 L358.82,186.75 L359.29,187.67 L359.75,188.59 L360.21,189.53 L360.67,190.47 L361.13,191.42 L361.59,192.37 L362.05,193.33 L362.52,194.29 L362.98,195.26 L363.44,196.23 L363.90,197.21 L364.36,198.19 L364.82,199.17 L365.29,200.15 L365.75,201.13 L366.21,202.12 L366.67,203.10 L367.13,204.09 L367.59,205.07 L368.05,206.06 L368.52,207.04 L368.98,208.02 L369.44,209.00 L369.90,209.97 L370.36,210.95 L370.82,211.92 L371.29,212.90 L371.75,213.87 L372.21,214.85 L372.67,215.83 L373.13,216.81 L373.59,217.79 L374.05,218.77 L374.52,219.76 L374.98,220.74 L375.44,221.73 L375.90,222.72 L376.36,223.70 L376.82,224.69 L377.28,225.68 L377.75,226.67 L378.21,227.66 L378.67,228.66 L379.13,229.65 L379.59,230.65 L380.05,231.64 L380.52,232.64 L380.98,233.64 L381.44,234.64 L381.90,235.64" fill="none" stroke="#00ff00" stroke-width="1.1" clip-path="url(#ct)"/>
<path d="M59.30,175.65 L59.76,175.22 L60.22,174.80 L60.68,174.37 L61.15,173.95 L61.61,173.52 L62.07,173.10 L62.53,172.67 L62.99,172.25 L63.45,171.83 L63.92,171.40 L64.38,170.98 L64.84,170.56 L65.30,170.13 L65.76,169.71 L66.22,169.29 L66.68,168.87 L67.15,168.44 L67.61,168.02 L68.07,167.60 L68.53,167.18 L68.99,166.76 L69.45,166.33 L69.91,165.91 L70.38,165.49 L70.84,165.07 L71.30,164.65 L71.76,164.23 L72.22,163.81 L72.68,163.39 L73.15,162.97 L73.61,162.55 L74.07,162.13 L74.53,161.71 L74.99,161.29 L75.45,160.87 L75.91,160.45 L76.38,160.03 L76.84,159.61 L77.30,159.19 L77.76,158.77 L78.22,158.35 L78.68,157.93 L79.15,157.51 L79.61,157.09 L80.07,156.68 L80.53,156.26 L80.99,155.84 L81.45,155.42 L81.91,155.00 L82.38,154.59 L82.84,154.17 L83.30,153.75 L83.76,153.34 L84.22,152.92 L84.68,152.50 L85.14,152.08 L85.61,151.67 L86.07,151.25 L86.53,150.84 L86.99,150.42 L87.45,150.00 L87.91,149.59 L88.38,149.17 L88.84,148.76 L89.30,148.34 L89.76,147.93 L90.22,147.51 L90.68,147.09 L91.14,146.68 L91.61,146.27 L92.07,145.85 L92.53,145.44 L92.99,145.02 L93.45,144.61 L93.91,144.19 L94.38,143.78 L94.84,143.37 L95.30,142.95 L95.76,142.54 L96.22,142.13 L96.68,141.71 L97.14,141.30 L97.61,140.89 L98.07,140.47 L98.53,140.06 L98.99,139.65 L99.45,139.24 L99.91,138.82 L100.37,138.41 L100.84,138.00 L101.30,137.59 L101.76,137.17 L102.22,136.76 L102.68,136.35 L103.14,135.94 L103.61,135.53 L104.07,135.12 L104.53,134.70 L104.99,134.29 L105.45,133.88 L105.91,133.47 L106.37,133.06 L106.84,132.65 L107.30,132.24 L107.76,131.83 L108.22,131.42 L108.68,131.01 L109.14,130.60 L109.61,130.19 L110.07,129.78 L110.53,129.37 L110.99,128.96 L111.45,128.55 L111.91,128.14 L112.37,127.73 L112.84,127.32 L113.30,126.92 L113.76,126.51 L114.22,126.10 L114.68,125.69 L115.14,125.28 L115.61,124.87 L116.07,124.47 L116.53,124.06 L116.99,123.65 L117.45,123.25 L117.91,122.84 L118.37,122.43 L118.84,122.03 L119.30,121.62 L119.76,121.21 L120.22,120.81 L120.68,120.40 L121.14,120.00 L121.60,119.59 L122.07,119.19 L122.53,118.78 L122.99,118.38 L123.45,117.98 L123.91,117.57 L124.37,117.17 L124.84,116.76 L125.30,116.36 L125.76,115.96 L126.22,115.56 L126.68,115.15 L127.14,114.75 L127.60,114.35 L128.07,113.95 L128.53,113.55 L128.99,113.15 L129.45,112.75 L129.91,112.34 L130.37,111.94 L130.84,111.54 L131.30,111.15 L131.76,110.75 L132.22,110.35 L132.68,109.95 L133.14,109.55 L133.60,109.15 L134.07,108.75 L134.53,108.36 L134.99,107.96 L135.45,107.56 L135.91,107.16 L136.37,106.77 L136.83,106.37 L137.30,105.97 L137.76,105.58 L138.22,105.18 L138.68,104.79 L139.14,104.39 L139.60,103.99 L140.07,103.60 L140.53,103.20 L140.99,102.81 L141.45,102.42 L141.91,102.02 L142.37,101.63 L142.83,101.23 L143.30,100.84 L143.76,100.45 L144.22,100.06 L144.68,99.66 L145.14,99.27 L145.60,98.88 L146.07,98.49 L146.53,98.10 L146.99,97.71 L147.45,97.31 L147.91,96.92 L148.37,96.53 L148.83,96.14 L149.30,95.76 L149.76,95.37 L150.22,94.98 L150.68,94.59 L151.14,94.20 L151.60,93.81 L152.06,93.43 L152.53,93.04 L152.99,92.65 L153.45,92.27 L153.91,91.88 L154.37,91.50 L154.83,91.11 L155.30,90.73 L155.76,90.34 L156.22,89.96 L156.68,89.57 L157.14,89.19 L157.60,88.81 L158.06,88.42 L158.53,88.04 L158.99,87.66 L159.45,87.28 L159.91,86.90 L160.37,86.52 L160.83,86.13 L161.30,85.75 L161.76,85.37 L162.22,84.99 L162.68,84.61 L163.14,84.23 L163.60,83.85 L164.06,83.47 L164.53,83.10 L164.99,82.72 L165.45,82.34 L165.91,81.96 L166.37,81.58 L166.83,81.21 L167.29,80.83 L167.76,80.46 L168.22,80.08 L168.68,79.71 L169.14,79.33 L169.60,78.96 L170.06,78.58 L170.53,78.21 L170.99,77.84 L171.45,77.47 L171.91,77.10 L172.37,76.73 L172.83,76.36 L173.29,75.99 L173.76,75.62 L174.22,75.25 L174.68,74.88 L175.14,74.52 L175.60,74.15 L176.06,73.79 L176.53,73.42 L176.99,73.06 L177.45,72.70 L177.91,72.34 L178.37,71.97 L178.83,71.61 L179.29,71.25 L179.76,70.89 L180.22,70.52 L180.68,70.16 L181.14,69.79 L181.60,69.43 L182.06,69.07 L182.52,68.71 L182.99,68.35 L183.45,67.99 L183.91,67.63 L184.37,67.27 L184.83,66.92 L185.29,66.57 L185.76,66.22 L186.22,65.87 L186.68,65.52 L187.14,65.18 L187.60,64.84 L188.06,64.51 L188.52,64.17 L188.99,63.85 L189.45,63.52 L189.91,63.20 L190.37,62.88 L190.83,62.57 L191.29,62.26 L191.76,61.96 L192.22,61.66 L192.68,61.36 L193.14,61.06 L193.60,60.77 L194.06,60.48 L194.52,60.19 L194.99,59.90 L195.45,59.61 L195.91,59.33 L196.37,59.05 L196.83,58.76 L197.29,58.48 L197.75,58.20 L198.22,57.91 L198.68,57.63 L199.14,57.35 L199.60,57.06 L200.06,56.78 L200.52,56.49 L200.99,56.20 L201.45,55.91 L201.91,55.62 L202.37,55.34 L202.83,55.05 L203.29,54.77 L203.75,54.50 L204.22,54.23 L204.68,53.96 L205.14,53.70 L205.60,53.44 L206.06,53.18 L206.52,52.92 L206.99,52.66 L207.45,52.40 L207.91,52.14 L208.37,51.88 L208.83,51.63 L209.29,51.37 L209.75,51.12 L210.22,50.86 L210.68,50.61 L211.14,50.36 L211.60,50.11 L212.06,49.87 L212.52,49.62 L212.98,49.38 L213.45,49.14 L213.91,48.90 L214.37,48.67 L214.83,48.44 L215.29,48.22 L215.75,47.99 L216.22,47.77 L216.68,47.56 L217.14,47.35 L217.60,47.14 L218.06,46.94 L218.52,46.74 L218.98,46.55 L219.45,46.36 L219.91,46.17 L220.37,46.00 L220.83,45.82 L221.29,45.65 L221.75,45.47 L222.22,45.30 L222.68,45.14 L223.14,44.97 L223.60,44.81 L224.06,44.65 L224.52,44.49 L224.98,44.34 L225.45,44.19 L225.91,44.04 L226.37,43.90 L226.83,43.77 L227.29,43.64 L227.75,43.51 L228.22,43.39 L228.68,43.28 L229.14,43.17 L229.60,43.07 L230.06,42.98 L230.52,42.89 L230.98,42.80 L231.45,42.70 L231.91,42.61 L232.37,42.52 L232.83,42.43 L233.29,42.35 L233.75,42.27 L234.21,42.19 L234.68,42.13 L235.14,42.07 L235.60,42.02 L236.06,41.98 L236.52,41.95 L236.98,41.93 L237.45,41.93 L237.91,41.93 L238.37,41.94 L238.83,41.96 L239.29,41.99 L239.75,42.02 L240.21,42.06 L240.68,42.10 L241.14,42.15 L241.60,42.20 L242.06,42.25 L242.52,42.31 L242.98,42.37 L243.45,42.43 L243.91,42.49 L244.37,42.56 L244.83,42.65 L245.29,42.77 L245.75,42.90 L246.21,43.05 L246.68,43.21 L247.14,43.38 L247.60,43.55 L248.06,43.72 L248.52,43.90 L248.98,44.09 L249.44,44.28 L249.91,44.47 L250.37,44.66 L250.83,44.84 L251.29,45.03 L251.75,45.21 L252.21,45.39 L252.68,45.58 L253.14,45.76 L253.60,45.94 L254.06,46.13 L254.52,46.32 L254.98,46.51 L255.44,46.71 L255.91,46.92 L256.37,47.13 L256.83,47.35 L257.29,47.57 L257.75,47.81 L258.21,48.05 L258.68,48.30 L259.14,48.56 L259.60,48.83 L260.06,49.11 L260.52,49.42 L260.98,49.76 L261.44,50.12 L261.91,50.52 L262.37,50.93 L262.83,51.36 L263.29,51.80 L263.75,52.26 L264.21,52.72 L264.67,53.18 L265.14,53.64 L265.60,54.09 L266.06,54.54 L266.52,54.98 L266.98,55.40 L267.44,55.80 L267.91,56.19 L268.37,56.58 L268.83,56.97 L269.29,57.35 L269.75,57.73 L270.21,58.11 L270.67,58.48 L271.14,58.86 L271.60,59.23 L272.06,59.61 L272.52,59.98 L272.98,60.35 L273.44,60.72 L273.91,61.09 L274.37,61.46 L274.83,61.82 L275.29,62.19 L275.75,62.55 L276.21,62.92 L276.67,63.28 L277.14,63.64 L277.60,63.99 L278.06,64.35 L278.52,64.70 L278.98,65.05 L279.44,65.40 L279.90,65.74 L280.37,66.07 L280.83,66.41 L281.29,66.74 L281.75,67.07 L282.21,67.40 L282.67,67.71 L283.14,68.01 L283.60,68.29 L284.06,68.58 L284.52,68.85 L284.98,69.13 L285.44,69.40 L285.90,69.67 L286.37,69.95 L286.83,70.23 L287.29,70.52 L287.75,70.82 L288.21,71.13 L288.67,71.46 L289.14,71.81 L289.60,72.19 L290.06,72.60 L290.52,73.04 L290.98,73.51 L291.44,74.02 L291.90,74.55 L292.37,75.12 L292.83,75.72 L293.29,76.35 L293.75,77.04 L294.21,77.78 L294.67,78.56 L295.13,79.38 L295.60,80.21 L296.06,81.05 L296.52,81.90 L296.98,82.75 L297.44,83.65 L297.90,84.58 L298.37,85.53 L298.83,86.45 L299.29,87.32 L299.75,88.16 L300.21,88.99 L300.67,89.81 L301.13,90.60 L301.60,91.35 L302.06,92.05 L302.52,92.69 L302.98,93.25 L303.44,93.76 L303.90,94.22 L304.37,94.65 L304.83,95.07 L305.29,95.47 L305.75,95.87 L306.21,96.29 L306.67,96.68 L307.13,97.04 L307.60,97.38 L308.06,97.72 L308.52,98.07 L308.98,98.43 L309.44,98.83 L309.90,99.27 L310.36,99.76 L310.83,100.34 L311.29,101.04 L311.75,101.82 L312.21,102.66 L312.67,103.54 L313.13,104.42 L313.60,105.29 L314.06,106.20 L314.52,107.15 L314.98,108.13 L315.44,109.11 L315.90,110.09 L316.36,111.03 L316.83,111.94 L317.29,112.79 L317.75,113.62 L318.21,114.42 L318.67,115.20 L319.13,115.96 L319.60,116.70 L320.06,117.43 L320.52,118.16 L320.98,118.87 L321.44,119.56 L321.90,120.24 L322.36,120.90 L322.83,121.55 L323.29,122.21 L323.75,122.88 L324.21,123.57 L324.67,124.28 L325.13,125.03 L325.59,125.83 L326.06,126.66 L326.52,127.49 L326.98,128.30 L327.44,129.08 L327.90,129.86 L328.36,130.64 L328.83,131.41 L329.29,132.18 L329.75,132.94 L330.21,133.70 L330.67,134.46 L331.13,135.21 L331.59,135.97 L332.06,136.72 L332.52,137.48 L332.98,138.24 L333.44,139.00 L333.90,139.76 L334.36,140.53 L334.83,141.30 L335.29,142.07 L335.75,142.85 L336.21,143.64 L336.67,144.43 L337.13,145.23 L337.59,146.02 L338.06,146.82 L338.52,147.61 L338.98,148.41 L339.44,149.20 L339.90,150.00 L340.36,150.80 L340.83,151.61 L341.29,152.41 L341.75,153.22 L342.21,154.04 L342.67,154.85 L343.13,155.68 L343.59,156.50 L344.06,157.33 L344.52,158.17 L344.98,159.01 L345.44,159.86 L345.90,160.71 L346.36,161.58 L346.82,162.46 L347.29,163.35 L347.75,164.26 L348.21,165.18 L348.67,166.11 L349.13,167.04 L349.59,167.97 L350.06,168.90 L350.52,169.82 L350.98,170.73 L351.44,171.63 L351.90,172.51 L352.36,173.38 L352.82,174.22 L353.29,175.05 L353.75,175.87 L354.21,176.68 L354.67,177.49 L355.13,178.30 L355.59,179.11 L356.06,179.94 L356.52,180.78 L356.98,181.64 L357.44,182.52 L357.90,183.42 L358.36,184.32 L358.82,185.23 L359.29,186.15 L359.75,187.07 L360.21,188.01 L360.67,188.95 L361.13,189.89 L361.59,190.85 L362.05,191.80 L362.52,192.77 L362.98,193.73 L363.44,194.70 L363.90,195.68 L364.36,196.66 L364.82,197.63 L365.29,198.62 L365.75,199.60 L366.21,200.58 L366.67,201.57 L367.13,202.55 L367.59,203.53 L368.05,204.52 L368.52,205.50 L368.98,206.48 L369.44,207.45 L369.90,208.43 L370.36,209.40 L370.82,210.37 L371.29,211.35 L371.75,212.32 L372.21,213.30 L372.67,214.28 L373.13,215.26 L373.59,216.24 L374.05,217.22 L374.52,218.20 L374.98,219.18 L375.44,220.17 L375.90,221.15 L376.36,222.14 L376.82,223.13 L377.28,224.12 L377.75,225.11 L378.21,226.10 L378.67,227.09 L379.13,228.08 L379.59,229.08 L380.05,230.07 L380.52,231.07 L380.98,232.06 L381.44,233.06 L381.90,234.06" fill="none" stroke="#ff00ff" stroke-width="1.35" stroke-dasharray="1.0 1.2 3.1 1.2" clip-path="url(#ct)"/>
<path d="M59.30,175.40 L59.76,174.98 L60.22,174.55 L60.68,174.13 L61.15,173.70 L61.61,173.28 L62.07,172.85 L62.53,172.43 L62.99,172.01 L63.45,171.58 L63.92,171.16 L64.38,170.73 L64.84,170.31 L65.30,169.89 L65.76,169.47 L66.22,169.04 L66.68,168.62 L67.15,168.20 L67.61,167.78 L68.07,167.35 L68.53,166.93 L68.99,166.51 L69.45,166.09 L69.91,165.67 L70.38,165.25 L70.84,164.82 L71.30,164.40 L71.76,163.98 L72.22,163.56 L72.68,163.14 L73.15,162.72 L73.61,162.30 L74.07,161.88 L74.53,161.46 L74.99,161.04 L75.45,160.62 L75.91,160.20 L76.38,159.78 L76.84,159.36 L77.30,158.94 L77.76,158.52 L78.22,158.10 L78.68,157.69 L79.15,157.27 L79.61,156.85 L80.07,156.43 L80.53,156.01 L80.99,155.59 L81.45,155.18 L81.91,154.76 L82.38,154.34 L82.84,153.92 L83.30,153.51 L83.76,153.09 L84.22,152.67 L84.68,152.26 L85.14,151.84 L85.61,151.42 L86.07,151.01 L86.53,150.59 L86.99,150.17 L87.45,149.76 L87.91,149.34 L88.38,148.93 L88.84,148.51 L89.30,148.10 L89.76,147.68 L90.22,147.26 L90.68,146.85 L91.14,146.43 L91.61,146.02 L92.07,145.61 L92.53,145.19 L92.99,144.78 L93.45,144.36 L93.91,143.95 L94.38,143.53 L94.84,143.12 L95.30,142.71 L95.76,142.29 L96.22,141.88 L96.68,141.47 L97.14,141.05 L97.61,140.64 L98.07,140.23 L98.53,139.81 L98.99,139.40 L99.45,138.99 L99.91,138.58 L100.37,138.17 L100.84,137.75 L101.30,137.34 L101.76,136.93 L102.22,136.52 L102.68,136.11 L103.14,135.69 L103.61,135.28 L104.07,134.87 L104.53,134.46 L104.99,134.05 L105.45,133.64 L105.91,133.23 L106.37,132.82 L106.84,132.40 L107.30,131.99 L107.76,131.58 L108.22,131.17 L108.68,130.76 L109.14,130.35 L109.61,129.94 L110.07,129.53 L110.53,129.12 L110.99,128.71 L111.45,128.31 L111.91,127.90 L112.37,127.49 L112.84,127.08 L113.30,126.67 L113.76,126.26 L114.22,125.85 L114.68,125.45 L115.14,125.04 L115.61,124.63 L116.07,124.22 L116.53,123.81 L116.99,123.41 L117.45,123.00 L117.91,122.59 L118.37,122.19 L118.84,121.78 L119.30,121.37 L119.76,120.97 L120.22,120.56 L120.68,120.16 L121.14,119.75 L121.60,119.35 L122.07,118.94 L122.53,118.54 L122.99,118.13 L123.45,117.73 L123.91,117.33 L124.37,116.92 L124.84,116.52 L125.30,116.12 L125.76,115.71 L126.22,115.31 L126.68,114.91 L127.14,114.51 L127.60,114.10 L128.07,113.70 L128.53,113.30 L128.99,112.90 L129.45,112.50 L129.91,112.10 L130.37,111.70 L130.84,111.30 L131.30,110.90 L131.76,110.50 L132.22,110.10 L132.68,109.70 L133.14,109.30 L133.60,108.91 L134.07,108.51 L134.53,108.11 L134.99,107.71 L135.45,107.32 L135.91,106.92 L136.37,106.52 L136.83,106.12 L137.30,105.73 L137.76,105.33 L138.22,104.94 L138.68,104.54 L139.14,104.14 L139.60,103.75 L140.07,103.35 L140.53,102.96 L140.99,102.56 L141.45,102.17 L141.91,101.78 L142.37,101.38 L142.83,100.99 L143.30,100.59 L143.76,100.20 L144.22,99.81 L144.68,99.42 L145.14,99.02 L145.60,98.63 L146.07,98.24 L146.53,97.85 L146.99,97.46 L147.45,97.07 L147.91,96.68 L148.37,96.29 L148.83,95.90 L149.30,95.51 L149.76,95.12 L150.22,94.73 L150.68,94.34 L151.14,93.95 L151.60,93.57 L152.06,93.18 L152.53,92.79 L152.99,92.41 L153.45,92.02 L153.91,91.63 L154.37,91.25 L154.83,90.86 L155.30,90.48 L155.76,90.09 L156.22,89.71 L156.68,89.33 L157.14,88.94 L157.60,88.56 L158.06,88.18 L158.53,87.80 L158.99,87.41 L159.45,87.03 L159.91,86.65 L160.37,86.27 L160.83,85.89 L161.30,85.51 L161.76,85.13 L162.22,84.75 L162.68,84.37 L163.14,83.99 L163.60,83.61 L164.06,83.23 L164.53,82.85 L164.99,82.47 L165.45,82.09 L165.91,81.72 L166.37,81.34 L166.83,80.96 L167.29,80.59 L167.76,80.21 L168.22,79.83 L168.68,79.46 L169.14,79.09 L169.60,78.71 L170.06,78.34 L170.53,77.97 L170.99,77.59 L171.45,77.22 L171.91,76.85 L172.37,76.48 L172.83,76.11 L173.29,75.74 L173.76,75.37 L174.22,75.01 L174.68,74.64 L175.14,74.27 L175.60,73.91 L176.06,73.54 L176.53,73.18 L176.99,72.82 L177.45,72.45 L177.91,72.09 L178.37,71.73 L178.83,71.37 L179.29,71.01 L179.76,70.64 L180.22,70.28 L180.68,69.91 L181.14,69.55 L181.60,69.19 L182.06,68.83 L182.52,68.46 L182.99,68.10 L183.45,67.74 L183.91,67.39 L184.37,67.03 L184.83,66.68 L185.29,66.32 L185.76,65.97 L186.22,65.63 L186.68,65.28 L187.14,64.94 L187.60,64.60 L188.06,64.27 L188.52,63.93 L188.99,63.61 L189.45,63.28 L189.91,62.96 L190.37,62.65 L190.83,62.34 L191.29,62.03 L191.76,61.72 L192.22,61.42 L192.68,61.12 L193.14,60.83 L193.60,60.54 L194.06,60.25 L194.52,59.96 L194.99,59.67 L195.45,59.39 L195.91,59.10 L196.37,58.82 L196.83,58.54 L197.29,58.26 L197.75,57.98 L198.22,57.69 L198.68,57.41 L199.14,57.13 L199.60,56.85 L200.06,56.56 L200.52,56.27 L200.99,55.99 L201.45,55.70 L201.91,55.41 L202.37,55.12 L202.83,54.84 L203.29,54.56 L203.75,54.29 L204.22,54.02 L204.68,53.76 L205.14,53.50 L205.60,53.24 L206.06,52.98 L206.52,52.72 L206.99,52.46 L207.45,52.20 L207.91,51.94 L208.37,51.68 L208.83,51.43 L209.29,51.17 L209.75,50.92 L210.22,50.66 L210.68,50.41 L211.14,50.16 L211.60,49.91 L212.06,49.67 L212.52,49.43 L212.98,49.19 L213.45,48.95 L213.91,48.71 L214.37,48.48 L214.83,48.25 L215.29,48.03 L215.75,47.80 L216.22,47.59 L216.68,47.37 L217.14,47.16 L217.60,46.95 L218.06,46.75 L218.52,46.55 L218.98,46.36 L219.45,46.17 L219.91,45.99 L220.37,45.81 L220.83,45.64 L221.29,45.46 L221.75,45.29 L222.22,45.12 L222.68,44.95 L223.14,44.79 L223.60,44.62 L224.06,44.46 L224.52,44.31 L224.98,44.15 L225.45,44.00 L225.91,43.86 L226.37,43.72 L226.83,43.58 L227.29,43.45 L227.75,43.32 L228.22,43.20 L228.68,43.09 L229.14,42.98 L229.60,42.88 L230.06,42.79 L230.52,42.69 L230.98,42.60 L231.45,42.50 L231.91,42.41 L232.37,42.32 L232.83,42.23 L233.29,42.14 L233.75,42.06 L234.21,41.98 L234.68,41.91 L235.14,41.85 L235.60,41.80 L236.06,41.76 L236.52,41.72 L236.98,41.71 L237.45,41.70 L237.91,41.70 L238.37,41.71 L238.83,41.73 L239.29,41.75 L239.75,41.78 L240.21,41.81 L240.68,41.85 L241.14,41.89 L241.60,41.93 L242.06,41.98 L242.52,42.03 L242.98,42.08 L243.45,42.13 L243.91,42.19 L244.37,42.25 L244.83,42.34 L245.29,42.45 L245.75,42.57 L246.21,42.71 L246.68,42.87 L247.14,43.03 L247.60,43.21 L248.06,43.39 L248.52,43.58 L248.98,43.77 L249.44,43.96 L249.91,44.15 L250.37,44.33 L250.83,44.51 L251.29,44.68 L251.75,44.86 L252.21,45.03 L252.68,45.20 L253.14,45.37 L253.60,45.55 L254.06,45.73 L254.52,45.91 L254.98,46.09 L255.44,46.28 L255.91,46.47 L256.37,46.67 L256.83,46.87 L257.29,47.08 L257.75,47.30 L258.21,47.53 L258.68,47.77 L259.14,48.01 L259.60,48.27 L260.06,48.54 L260.52,48.83 L260.98,49.15 L261.44,49.51 L261.91,49.88 L262.37,50.28 L262.83,50.70 L263.29,51.13 L263.75,51.57 L264.21,52.01 L264.67,52.46 L265.14,52.91 L265.60,53.36 L266.06,53.79 L266.52,54.22 L266.98,54.63 L267.44,55.02 L267.91,55.41 L268.37,55.79 L268.83,56.17 L269.29,56.55 L269.75,56.93 L270.21,57.31 L270.67,57.68 L271.14,58.06 L271.60,58.43 L272.06,58.80 L272.52,59.16 L272.98,59.53 L273.44,59.89 L273.91,60.26 L274.37,60.62 L274.83,60.98 L275.29,61.34 L275.75,61.70 L276.21,62.06 L276.67,62.42 L277.14,62.77 L277.60,63.13 L278.06,63.48 L278.52,63.83 L278.98,64.18 L279.44,64.53 L279.90,64.87 L280.37,65.21 L280.83,65.54 L281.29,65.87 L281.75,66.20 L282.21,66.51 L282.67,66.82 L283.14,67.10 L283.60,67.38 L284.06,67.66 L284.52,67.92 L284.98,68.19 L285.44,68.46 L285.90,68.73 L286.37,69.00 L286.83,69.29 L287.29,69.59 L287.75,69.90 L288.21,70.23 L288.67,70.58 L289.14,70.95 L289.60,71.34 L290.06,71.78 L290.52,72.24 L290.98,72.74 L291.44,73.26 L291.90,73.81 L292.37,74.38 L292.83,74.97 L293.29,75.60 L293.75,76.27 L294.21,76.99 L294.67,77.75 L295.13,78.54 L295.60,79.36 L296.06,80.18 L296.52,81.02 L296.98,81.85 L297.44,82.71 L297.90,83.62 L298.37,84.54 L298.83,85.43 L299.29,86.28 L299.75,87.09 L300.21,87.91 L300.67,88.71 L301.13,89.49 L301.60,90.23 L302.06,90.92 L302.52,91.55 L302.98,92.11 L303.44,92.61 L303.90,93.06 L304.37,93.49 L304.83,93.90 L305.29,94.29 L305.75,94.69 L306.21,95.10 L306.67,95.49 L307.13,95.86 L307.60,96.21 L308.06,96.56 L308.52,96.92 L308.98,97.30 L309.44,97.71 L309.90,98.16 L310.36,98.66 L310.83,99.25 L311.29,99.95 L311.75,100.73 L312.21,101.57 L312.67,102.44 L313.13,103.31 L313.60,104.16 L314.06,105.06 L314.52,105.99 L314.98,106.95 L315.44,107.92 L315.90,108.87 L316.36,109.80 L316.83,110.68 L317.29,111.52 L317.75,112.32 L318.21,113.11 L318.67,113.87 L319.13,114.62 L319.60,115.36 L320.06,116.09 L320.52,116.82 L320.98,117.53 L321.44,118.23 L321.90,118.90 L322.36,119.57 L322.83,120.23 L323.29,120.89 L323.75,121.56 L324.21,122.25 L324.67,122.97 L325.13,123.72 L325.59,124.53 L326.06,125.37 L326.52,126.20 L326.98,127.01 L327.44,127.80 L327.90,128.59 L328.36,129.36 L328.83,130.13 L329.29,130.90 L329.75,131.66 L330.21,132.42 L330.67,133.18 L331.13,133.93 L331.59,134.68 L332.06,135.44 L332.52,136.19 L332.98,136.94 L333.44,137.70 L333.90,138.45 L334.36,139.22 L334.83,139.98 L335.29,140.75 L335.75,141.52 L336.21,142.31 L336.67,143.09 L337.13,143.88 L337.59,144.67 L338.06,145.46 L338.52,146.25 L338.98,147.05 L339.44,147.84 L339.90,148.64 L340.36,149.44 L340.83,150.24 L341.29,151.05 L341.75,151.86 L342.21,152.67 L342.67,153.49 L343.13,154.31 L343.59,155.13 L344.06,155.96 L344.52,156.80 L344.98,157.64 L345.44,158.49 L345.90,159.34 L346.36,160.21 L346.82,161.08 L347.29,161.98 L347.75,162.89 L348.21,163.81 L348.67,164.73 L349.13,165.66 L349.59,166.59 L350.06,167.52 L350.52,168.43 L350.98,169.34 L351.44,170.24 L351.90,171.12 L352.36,171.97 L352.82,172.81 L353.29,173.63 L353.75,174.45 L354.21,175.25 L354.67,176.06 L355.13,176.86 L355.59,177.67 L356.06,178.49 L356.52,179.33 L356.98,180.18 L357.44,181.06 L357.90,181.94 L358.36,182.84 L358.82,183.74 L359.29,184.65 L359.75,185.57 L360.21,186.50 L360.67,187.43 L361.13,188.37 L361.59,189.32 L362.05,190.27 L362.52,191.22 L362.98,192.18 L363.44,193.15 L363.90,194.12 L364.36,195.09 L364.82,196.06 L365.29,197.03 L365.75,198.01 L366.21,198.99 L366.67,199.97 L367.13,200.95 L367.59,201.92 L368.05,202.90 L368.52,203.88 L368.98,204.85 L369.44,205.82 L369.90,206.79 L370.36,207.76 L370.82,208.73 L371.29,209.70 L371.75,210.67 L372.21,211.64 L372.67,212.61 L373.13,213.58 L373.59,214.56 L374.05,215.54 L374.52,216.51 L374.98,217.49 L375.44,218.47 L375.90,219.45 L376.36,220.43 L376.82,221.42 L377.28,222.40 L377.75,223.39 L378.21,224.37 L378.67,225.36 L379.13,226.35 L379.59,227.34 L380.05,228.33 L380.52,229.32 L380.98,230.31 L381.44,231.31 L381.90,232.30" fill="none" stroke="#0000ff" stroke-width="1.4" stroke-dasharray="1.3 0.95" clip-path="url(#ct)"/>
<path d="M52.80,263.20 L53.27,263.20 L53.74,263.20 L54.21,263.20 L54.68,263.20 L55.15,263.20 L55.62,263.20 L56.09,263.20 L56.56,263.20 L57.03,263.20 L57.50,263.20 L57.97,263.20 L58.44,263.20 L58.91,263.20 L59.38,263.20 L59.85,263.20 L60.32,263.20 L60.79,263.20 L61.26,263.20 L61.73,263.20 L62.20,263.20 L62.67,263.20 L63.14,263.20 L63.61,263.20 L64.08,263.20 L64.55,263.20 L65.02,263.20 L65.48,263.20 L65.95,263.20 L66.42,263.20 L66.89,263.20 L67.36,263.20 L67.83,263.20 L68.30,263.20 L68.77,263.20 L69.24,263.20 L69.71,263.20 L70.18,263.20 L70.65,263.20 L71.12,263.20 L71.59,263.20 L72.06,263.20 L72.53,263.20 L73.00,263.20 L73.47,263.20 L73.94,263.20 L74.41,263.20 L74.88,263.20 L75.35,263.20 L75.82,263.20 L76.29,263.20 L76.76,263.20 L77.23,263.20 L77.70,263.20 L78.17,263.20 L78.64,263.20 L79.11,263.20 L79.58,263.20 L80.05,263.20 L80.52,263.20 L80.99,263.20 L81.46,263.20 L81.93,263.20 L82.40,263.20 L82.87,263.20 L83.34,263.20 L83.81,263.20 L84.28,263.20 L84.75,263.20 L85.22,263.20 L85.69,263.20 L86.16,263.20 L86.63,263.20 L87.10,263.20 L87.57,263.20 L88.04,263.20 L88.51,263.20 L88.98,263.20 L89.45,263.20 L89.92,263.20 L90.39,263.20 L90.85,263.20 L91.32,263.20 L91.79,263.20 L92.26,263.20 L92.73,263.20 L93.20,263.20 L93.67,263.20 L94.14,263.20 L94.61,263.20 L95.08,263.20 L95.55,263.20 L96.02,263.20 L96.49,263.20 L96.96,263.20 L97.43,263.20 L97.90,263.20 L98.37,263.20 L98.84,263.20 L99.31,263.20 L99.78,263.20 L100.25,263.20 L100.72,263.20 L101.19,263.20 L101.66,263.20 L102.13,263.20 L102.60,263.20 L103.07,263.20 L103.54,263.20 L104.01,263.20 L104.48,263.20 L104.95,263.20 L105.42,263.20 L105.89,263.20 L106.36,263.20 L106.83,263.20 L107.30,263.20 L107.77,263.20 L108.24,263.20 L108.71,263.20 L109.18,263.20 L109.65,263.20 L110.12,263.20 L110.59,263.20 L111.06,263.20 L111.53,263.20 L112.00,263.20 L112.47,263.20 L112.94,263.20 L113.41,263.20 L113.88,263.20 L114.35,263.20 L114.82,263.20 L115.29,263.20 L115.76,263.20 L116.22,263.20 L116.69,263.20 L117.16,263.20 L117.63,263.20 L118.10,263.20 L118.57,263.20 L119.04,263.20 L119.51,263.20 L119.98,263.20 L120.45,263.20 L120.92,263.20 L121.39,263.20 L121.86,263.20 L122.33,263.20 L122.80,263.20 L123.27,263.20 L123.74,263.20 L124.21,263.20 L124.68,263.20 L125.15,263.20 L125.62,263.20 L126.09,263.20 L126.56,263.20 L127.03,263.20 L127.50,263.20 L127.97,263.20 L128.44,263.20 L128.91,263.20 L129.38,263.20 L129.85,263.20 L130.32,263.20 L130.79,263.20 L131.26,263.20 L131.73,263.20 L132.20,263.20 L132.67,263.20 L133.14,263.20 L133.61,263.20 L134.08,263.20 L134.55,263.20 L135.02,263.21 L135.49,263.21 L135.96,263.21 L136.43,263.21 L136.90,263.21 L137.37,263.21 L137.84,263.21 L138.31,263.22 L138.78,263.22 L139.25,263.22 L139.72,263.22 L140.19,263.22 L140.66,263.23 L141.13,263.23 L141.59,263.23 L142.06,263.23 L142.53,263.24 L143.00,263.24 L143.47,263.24 L143.94,263.24 L144.41,263.25 L144.88,263.25 L145.35,263.25 L145.82,263.26 L146.29,263.26 L146.76,263.26 L147.23,263.27 L147.70,263.27 L148.17,263.27 L148.64,263.28 L149.11,263.28 L149.58,263.28 L150.05,263.29 L150.52,263.29 L150.99,263.29 L151.46,263.30 L151.93,263.30 L152.40,263.31 L152.87,263.31 L153.34,263.31 L153.81,263.32 L154.28,263.32 L154.75,263.33 L155.22,263.33 L155.69,263.33 L156.16,263.34 L156.63,263.34 L157.10,263.35 L157.57,263.35 L158.04,263.36 L158.51,263.36 L158.98,263.37 L159.45,263.37 L159.92,263.38 L160.39,263.38 L160.86,263.39 L161.33,263.39 L161.80,263.39 L162.27,263.40 L162.74,263.40 L163.21,263.41 L163.68,263.41 L164.15,263.42 L164.62,263.42 L165.09,263.43 L165.56,263.44 L166.03,263.44 L166.49,263.45 L166.96,263.45 L167.43,263.46 L167.90,263.46 L168.37,263.47 L168.84,263.47 L169.31,263.48 L169.78,263.48 L170.25,263.49 L170.72,263.49 L171.19,263.50 L171.66,263.50 L172.13,263.51 L172.60,263.51 L173.07,263.52 L173.54,263.53 L174.01,263.53 L174.48,263.54 L174.95,263.54 L175.42,263.55 L175.89,263.55 L176.36,263.56 L176.83,263.56 L177.30,263.57 L177.77,263.57 L178.24,263.58 L178.71,263.59 L179.18,263.59 L179.65,263.60 L180.12,263.60 L180.59,263.61 L181.06,263.61 L181.53,263.62 L182.00,263.63 L182.47,263.63 L182.94,263.64 L183.41,263.65 L183.88,263.66 L184.35,263.67 L184.82,263.67 L185.29,263.68 L185.76,263.69 L186.23,263.70 L186.70,263.71 L187.17,263.72 L187.64,263.73 L188.11,263.74 L188.58,263.75 L189.05,263.76 L189.52,263.77 L189.99,263.78 L190.46,263.80 L190.93,263.81 L191.40,263.82 L191.86,263.83 L192.33,263.84 L192.80,263.86 L193.27,263.87 L193.74,263.88 L194.21,263.89 L194.68,263.90 L195.15,263.92 L195.62,263.93 L196.09,263.94 L196.56,263.95 L197.03,263.97 L197.50,263.98 L197.97,263.99 L198.44,264.00 L198.91,264.02 L199.38,264.03 L199.85,264.04 L200.32,264.05 L200.79,264.07 L201.26,264.08 L201.73,264.09 L202.20,264.10 L202.67,264.12 L203.14,264.13 L203.61,264.14 L204.08,264.15 L204.55,264.16 L205.02,264.17 L205.49,264.19 L205.96,264.20 L206.43,264.21 L206.90,264.22 L207.37,264.23 L207.84,264.24 L208.31,264.25 L208.78,264.26 L209.25,264.27 L209.72,264.28 L210.19,264.29 L210.66,264.30 L211.13,264.30 L211.60,264.31 L212.07,264.32 L212.54,264.33 L213.01,264.34 L213.48,264.34 L213.95,264.35 L214.42,264.35 L214.89,264.36 L215.36,264.37 L215.83,264.37 L216.30,264.38 L216.77,264.38 L217.23,264.38 L217.70,264.39 L218.17,264.39 L218.64,264.39 L219.11,264.40 L219.58,264.40 L220.05,264.40 L220.52,264.40 L220.99,264.40 L221.46,264.40 L221.93,264.40 L222.40,264.39 L222.87,264.39 L223.34,264.38 L223.81,264.37 L224.28,264.36 L224.75,264.35 L225.22,264.33 L225.69,264.32 L226.16,264.30 L226.63,264.28 L227.10,264.26 L227.57,264.24 L228.04,264.22 L228.51,264.20 L228.98,264.18 L229.45,264.15 L229.92,264.13 L230.39,264.10 L230.86,264.07 L231.33,264.05 L231.80,264.02 L232.27,263.99 L232.74,263.96 L233.21,263.93 L233.68,263.90 L234.15,263.87 L234.62,263.84 L235.09,263.80 L235.56,263.77 L236.03,263.74 L236.50,263.71 L236.97,263.67 L237.44,263.64 L237.91,263.60 L238.38,263.56 L238.85,263.51 L239.32,263.46 L239.79,263.41 L240.26,263.36 L240.73,263.30 L241.20,263.24 L241.67,263.18 L242.14,263.12 L242.60,263.05 L243.07,262.98 L243.54,262.91 L244.01,262.84 L244.48,262.77 L244.95,262.69 L245.42,262.61 L245.89,262.53 L246.36,262.45 L246.83,262.37 L247.30,262.28 L247.77,262.19 L248.24,262.08 L248.71,261.97 L249.18,261.85 L249.65,261.72 L250.12,261.59 L250.59,261.45 L251.06,261.30 L251.53,261.15 L252.00,261.00 L252.47,260.85 L252.94,260.69 L253.41,260.54 L253.88,260.38 L254.35,260.23 L254.82,260.08 L255.29,259.94 L255.76,259.79 L256.23,259.66 L256.70,259.53 L257.17,259.40 L257.64,259.27 L258.11,259.14 L258.58,259.00 L259.05,258.87 L259.52,258.73 L259.99,258.59 L260.46,258.46 L260.93,258.32 L261.40,258.19 L261.87,258.06 L262.34,257.93 L262.81,257.80 L263.28,257.68 L263.75,257.56 L264.22,257.45 L264.69,257.35 L265.16,257.25 L265.63,257.16 L266.10,257.08 L266.57,257.01 L267.04,256.94 L267.51,256.89 L267.97,256.84 L268.44,256.79 L268.91,256.74 L269.38,256.69 L269.85,256.64 L270.32,256.59 L270.79,256.55 L271.26,256.51 L271.73,256.47 L272.20,256.43 L272.67,256.39 L273.14,256.36 L273.61,256.32 L274.08,256.30 L274.55,256.27 L275.02,256.25 L275.49,256.23 L275.96,256.22 L276.43,256.21 L276.90,256.20 L277.37,256.20 L277.84,256.21 L278.31,256.22 L278.78,256.24 L279.25,256.27 L279.72,256.31 L280.19,256.35 L280.66,256.40 L281.13,256.45 L281.60,256.50 L282.07,256.56 L282.54,256.62 L283.01,256.68 L283.48,256.73 L283.95,256.79 L284.42,256.84 L284.89,256.89 L285.36,256.94 L285.83,256.98 L286.30,257.02 L286.77,257.05 L287.24,257.08 L287.71,257.09 L288.18,257.10 L288.65,257.09 L289.12,257.06 L289.59,257.01 L290.06,256.94 L290.53,256.86 L291.00,256.76 L291.47,256.64 L291.94,256.52 L292.41,256.39 L292.87,256.25 L293.34,256.11 L293.81,255.97 L294.28,255.82 L294.75,255.69 L295.22,255.55 L295.69,255.43 L296.16,255.31 L296.63,255.21 L297.10,255.11 L297.57,255.04 L298.04,254.98 L298.51,254.93 L298.98,254.88 L299.45,254.83 L299.92,254.78 L300.39,254.74 L300.86,254.69 L301.33,254.66 L301.80,254.63 L302.27,254.61 L302.74,254.60 L303.21,254.60 L303.68,254.62 L304.15,254.65 L304.62,254.68 L305.09,254.73 L305.56,254.78 L306.03,254.83 L306.50,254.88 L306.97,254.92 L307.44,254.96 L307.91,254.99 L308.38,255.00 L308.85,255.00 L309.32,254.98 L309.79,254.95 L310.26,254.91 L310.73,254.87 L311.20,254.81 L311.67,254.75 L312.14,254.68 L312.61,254.61 L313.08,254.54 L313.55,254.47 L314.02,254.40 L314.49,254.33 L314.96,254.26 L315.43,254.20 L315.90,254.14 L316.37,254.09 L316.84,254.05 L317.31,254.02 L317.78,254.01 L318.24,254.00 L318.71,254.00 L319.18,254.01 L319.65,254.01 L320.12,254.02 L320.59,254.03 L321.06,254.04 L321.53,254.06 L322.00,254.07 L322.47,254.08 L322.94,254.10 L323.41,254.11 L323.88,254.13 L324.35,254.14 L324.82,254.15 L325.29,254.17 L325.76,254.18 L326.23,254.19 L326.70,254.19 L327.17,254.20 L327.64,254.20 L328.11,254.20 L328.58,254.19 L329.05,254.18 L329.52,254.16 L329.99,254.13 L330.46,254.11 L330.93,254.07 L331.40,254.04 L331.87,254.00 L332.34,253.96 L332.81,253.92 L333.28,253.87 L333.75,253.83 L334.22,253.79 L334.69,253.75 L335.16,253.70 L335.63,253.67 L336.10,253.63 L336.57,253.59 L337.04,253.56 L337.51,253.54 L337.98,253.52 L338.45,253.50 L338.92,253.48 L339.39,253.47 L339.86,253.46 L340.33,253.44 L340.80,253.43 L341.27,253.42 L341.74,253.41 L342.21,253.40 L342.68,253.39 L343.15,253.37 L343.61,253.36 L344.08,253.35 L344.55,253.34 L345.02,253.33 L345.49,253.33 L345.96,253.32 L346.43,253.31 L346.90,253.30 L347.37,253.29 L347.84,253.28 L348.31,253.27 L348.78,253.27 L349.25,253.26 L349.72,253.25 L350.19,253.24 L350.66,253.24 L351.13,253.23 L351.60,253.22 L352.07,253.22 L352.54,253.21 L353.01,253.20 L353.48,253.20 L353.95,253.19 L354.42,253.18 L354.89,253.18 L355.36,253.17 L355.83,253.16 L356.30,253.16 L356.77,253.15 L357.24,253.14 L357.71,253.14 L358.18,253.13 L358.65,253.12 L359.12,253.11 L359.59,253.11 L360.06,253.10 L360.53,253.09 L361.00,253.08 L361.47,253.08 L361.94,253.07 L362.41,253.06 L362.88,253.05 L363.35,253.05 L363.82,253.04 L364.29,253.03 L364.76,253.03 L365.23,253.02 L365.70,253.01 L366.17,253.00 L366.64,253.00 L367.11,252.99 L367.58,252.98 L368.05,252.98 L368.52,252.97 L368.98,252.96 L369.45,252.96 L369.92,252.95 L370.39,252.94 L370.86,252.94 L371.33,252.93 L371.80,252.92 L372.27,252.92 L372.74,252.91 L373.21,252.90 L373.68,252.90 L374.15,252.89 L374.62,252.88 L375.09,252.88 L375.56,252.87 L376.03,252.86 L376.50,252.86 L376.97,252.85 L377.44,252.85 L377.91,252.84 L378.38,252.83 L378.85,252.83 L379.32,252.82 L379.79,252.82 L380.26,252.81 L380.73,252.81 L381.20,252.80" fill="none" stroke="#ff0000" stroke-width="1.4" stroke-dasharray="11 9.47" clip-path="url(#cb)"/>
<path d="M52.80,267.30 L53.27,267.30 L53.74,267.30 L54.21,267.30 L54.68,267.30 L55.15,267.30 L55.62,267.30 L56.09,267.30 L56.56,267.30 L57.03,267.30 L57.50,267.30 L57.97,267.30 L58.44,267.30 L58.91,267.30 L59.38,267.30 L59.85,267.30 L60.32,267.30 L60.79,267.30 L61.26,267.30 L61.73,267.30 L62.20,267.30 L62.67,267.30 L63.14,267.30 L63.61,267.30 L64.08,267.30 L64.55,267.30 L65.02,267.30 L65.48,267.30 L65.95,267.30 L66.42,267.30 L66.89,267.30 L67.36,267.30 L67.83,267.30 L68.30,267.30 L68.77,267.30 L69.24,267.30 L69.71,267.30 L70.18,267.30 L70.65,267.30 L71.12,267.30 L71.59,267.30 L72.06,267.30 L72.53,267.30 L73.00,267.30 L73.47,267.30 L73.94,267.30 L74.41,267.30 L74.88,267.30 L75.35,267.30 L75.82,267.30 L76.29,267.30 L76.76,267.30 L77.23,267.30 L77.70,267.30 L78.17,267.30 L78.64,267.30 L79.11,267.30 L79.58,267.30 L80.05,267.30 L80.52,267.30 L80.99,267.30 L81.46,267.30 L81.93,267.30 L82.40,267.30 L82.87,267.30 L83.34,267.30 L83.81,267.30 L84.28,267.30 L84.75,267.30 L85.22,267.30 L85.69,267.30 L86.16,267.30 L86.63,267.30 L87.10,267.30 L87.57,267.30 L88.04,267.30 L88.51,267.30 L88.98,267.30 L89.45,267.30 L89.92,267.30 L90.39,267.30 L90.85,267.30 L91.32,267.30 L91.79,267.30 L92.26,267.30 L92.73,267.30 L93.20,267.30 L93.67,267.30 L94.14,267.30 L94.61,267.30 L95.08,267.30 L95.55,267.30 L96.02,267.30 L96.49,267.30 L96.96,267.30 L97.43,267.30 L97.90,267.30 L98.37,267.30 L98.84,267.30 L99.31,267.30 L99.78,267.30 L100.25,267.30 L100.72,267.30 L101.19,267.30 L101.66,267.30 L102.13,267.30 L102.60,267.30 L103.07,267.30 L103.54,267.30 L104.01,267.30 L104.48,267.30 L104.95,267.30 L105.42,267.30 L105.89,267.30 L106.36,267.30 L106.83,267.30 L107.30,267.30 L107.77,267.30 L108.24,267.30 L108.71,267.30 L109.18,267.30 L109.65,267.30 L110.12,267.30 L110.59,267.30 L111.06,267.30 L111.53,267.30 L112.00,267.30 L112.47,267.30 L112.94,267.30 L113.41,267.30 L113.88,267.30 L114.35,267.30 L114.82,267.30 L115.29,267.30 L115.76,267.30 L116.22,267.30 L116.69,267.30 L117.16,267.30 L117.63,267.30 L118.10,267.30 L118.57,267.30 L119.04,267.30 L119.51,267.30 L119.98,267.30 L120.45,267.30 L120.92,267.30 L121.39,267.30 L121.86,267.30 L122.33,267.30 L122.80,267.30 L123.27,267.30 L123.74,267.30 L124.21,267.30 L124.68,267.30 L125.15,267.30 L125.62,267.30 L126.09,267.30 L126.56,267.30 L127.03,267.30 L127.50,267.30 L127.97,267.30 L128.44,267.30 L128.91,267.30 L129.38,267.30 L129.85,267.30 L130.32,267.30 L130.79,267.30 L131.26,267.30 L131.73,267.30 L132.20,267.30 L132.67,267.30 L133.14,267.30 L133.61,267.30 L134.08,267.30 L134.55,267.30 L135.02,267.30 L135.49,267.30 L135.96,267.31 L136.43,267.31 L136.90,267.31 L137.37,267.31 L137.84,267.31 L138.31,267.31 L138.78,267.31 L139.25,267.31 L139.72,267.32 L140.19,267.32 L140.66,267.32 L141.13,267.32 L141.59,267.32 L142.06,267.32 L142.53,267.32 L143.00,267.33 L143.47,267.33 L143.94,267.33 L144.41,267.33 L144.88,267.33 L145.35,267.34 L145.82,267.34 L146.29,267.34 L146.76,267.34 L147.23,267.35 L147.70,267.35 L148.17,267.35 L148.64,267.35 L149.11,267.36 L149.58,267.36 L150.05,267.36 L150.52,267.36 L150.99,267.37 L151.46,267.37 L151.93,267.37 L152.40,267.37 L152.87,267.38 L153.34,267.38 L153.81,267.38 L154.28,267.39 L154.75,267.39 L155.22,267.39 L155.69,267.40 L156.16,267.40 L156.63,267.40 L157.10,267.41 L157.57,267.41 L158.04,267.41 L158.51,267.42 L158.98,267.42 L159.45,267.42 L159.92,267.43 L160.39,267.43 L160.86,267.43 L161.33,267.44 L161.80,267.44 L162.27,267.44 L162.74,267.45 L163.21,267.45 L163.68,267.45 L164.15,267.46 L164.62,267.46 L165.09,267.47 L165.56,267.47 L166.03,267.47 L166.49,267.48 L166.96,267.48 L167.43,267.49 L167.90,267.49 L168.37,267.49 L168.84,267.50 L169.31,267.50 L169.78,267.51 L170.25,267.51 L170.72,267.51 L171.19,267.52 L171.66,267.52 L172.13,267.53 L172.60,267.53 L173.07,267.54 L173.54,267.54 L174.01,267.54 L174.48,267.55 L174.95,267.55 L175.42,267.56 L175.89,267.56 L176.36,267.57 L176.83,267.57 L177.30,267.57 L177.77,267.58 L178.24,267.58 L178.71,267.59 L179.18,267.59 L179.65,267.60 L180.12,267.60 L180.59,267.61 L181.06,267.61 L181.53,267.62 L182.00,267.62 L182.47,267.63 L182.94,267.64 L183.41,267.64 L183.88,267.65 L184.35,267.66 L184.82,267.67 L185.29,267.68 L185.76,267.68 L186.23,267.69 L186.70,267.70 L187.17,267.71 L187.64,267.72 L188.11,267.73 L188.58,267.74 L189.05,267.76 L189.52,267.77 L189.99,267.78 L190.46,267.79 L190.93,267.80 L191.40,267.81 L191.86,267.83 L192.33,267.84 L192.80,267.85 L193.27,267.86 L193.74,267.88 L194.21,267.89 L194.68,267.90 L195.15,267.92 L195.62,267.93 L196.09,267.94 L196.56,267.96 L197.03,267.97 L197.50,267.98 L197.97,268.00 L198.44,268.01 L198.91,268.02 L199.38,268.04 L199.85,268.05 L200.32,268.07 L200.79,268.08 L201.26,268.09 L201.73,268.11 L202.20,268.12 L202.67,268.13 L203.14,268.15 L203.61,268.16 L204.08,268.17 L204.55,268.19 L205.02,268.20 L205.49,268.21 L205.96,268.22 L206.43,268.24 L206.90,268.25 L207.37,268.26 L207.84,268.27 L208.31,268.29 L208.78,268.30 L209.25,268.31 L209.72,268.32 L210.19,268.33 L210.66,268.34 L211.13,268.35 L211.60,268.36 L212.07,268.37 L212.54,268.38 L213.01,268.39 L213.48,268.40 L213.95,268.41 L214.42,268.42 L214.89,268.43 L215.36,268.43 L215.83,268.44 L216.30,268.45 L216.77,268.45 L217.23,268.46 L217.70,268.47 L218.17,268.47 L218.64,268.48 L219.11,268.48 L219.58,268.49 L220.05,268.49 L220.52,268.49 L220.99,268.49 L221.46,268.50 L221.93,268.50 L222.40,268.50 L222.87,268.50 L223.34,268.50 L223.81,268.49 L224.28,268.48 L224.75,268.47 L225.22,268.45 L225.69,268.42 L226.16,268.39 L226.63,268.36 L227.10,268.33 L227.57,268.29 L228.04,268.26 L228.51,268.22 L228.98,268.18 L229.45,268.13 L229.92,268.09 L230.39,268.05 L230.86,268.01 L231.33,267.97 L231.80,267.93 L232.27,267.89 L232.74,267.85 L233.21,267.80 L233.68,267.76 L234.15,267.71 L234.62,267.65 L235.09,267.59 L235.56,267.53 L236.03,267.47 L236.50,267.39 L236.97,267.32 L237.44,267.23 L237.91,267.12 L238.38,266.94 L238.85,266.73 L239.32,266.51 L239.79,266.33 L240.26,266.22 L240.73,266.20 L241.20,266.21 L241.67,266.22 L242.14,266.24 L242.60,266.26 L243.07,266.28 L243.54,266.30 L244.01,266.33 L244.48,266.35 L244.95,266.37 L245.42,266.38 L245.89,266.39 L246.36,266.40 L246.83,266.38 L247.30,266.28 L247.77,266.13 L248.24,265.93 L248.71,265.72 L249.18,265.51 L249.65,265.32 L250.12,265.16 L250.59,265.03 L251.06,264.90 L251.53,264.77 L252.00,264.64 L252.47,264.52 L252.94,264.39 L253.41,264.27 L253.88,264.16 L254.35,264.05 L254.82,263.93 L255.29,263.83 L255.76,263.72 L256.23,263.62 L256.70,263.52 L257.17,263.42 L257.64,263.33 L258.11,263.24 L258.58,263.15 L259.05,263.07 L259.52,262.98 L259.99,262.90 L260.46,262.82 L260.93,262.74 L261.40,262.66 L261.87,262.58 L262.34,262.51 L262.81,262.44 L263.28,262.37 L263.75,262.30 L264.22,262.23 L264.69,262.17 L265.16,262.11 L265.63,262.05 L266.10,261.99 L266.57,261.93 L267.04,261.88 L267.51,261.82 L267.97,261.76 L268.44,261.71 L268.91,261.66 L269.38,261.60 L269.85,261.55 L270.32,261.50 L270.79,261.46 L271.26,261.41 L271.73,261.37 L272.20,261.33 L272.67,261.30 L273.14,261.26 L273.61,261.23 L274.08,261.21 L274.55,261.18 L275.02,261.16 L275.49,261.14 L275.96,261.11 L276.43,261.09 L276.90,261.07 L277.37,261.05 L277.84,261.04 L278.31,261.02 L278.78,261.01 L279.25,261.00 L279.72,261.00 L280.19,261.00 L280.66,261.00 L281.13,261.01 L281.60,261.02 L282.07,261.04 L282.54,261.06 L283.01,261.08 L283.48,261.10 L283.95,261.12 L284.42,261.15 L284.89,261.17 L285.36,261.20 L285.83,261.22 L286.30,261.25 L286.77,261.27 L287.24,261.30 L287.71,261.32 L288.18,261.34 L288.65,261.36 L289.12,261.37 L289.59,261.39 L290.06,261.39 L290.53,261.40 L291.00,261.40 L291.47,261.37 L291.94,261.31 L292.41,261.23 L292.87,261.12 L293.34,261.00 L293.81,260.86 L294.28,260.71 L294.75,260.55 L295.22,260.38 L295.69,260.22 L296.16,260.05 L296.63,259.89 L297.10,259.74 L297.57,259.60 L298.04,259.48 L298.51,259.37 L298.98,259.29 L299.45,259.21 L299.92,259.13 L300.39,259.05 L300.86,258.97 L301.33,258.90 L301.80,258.83 L302.27,258.78 L302.74,258.74 L303.21,258.71 L303.68,258.70 L304.15,258.72 L304.62,258.77 L305.09,258.84 L305.56,258.93 L306.03,259.03 L306.50,259.14 L306.97,259.23 L307.44,259.31 L307.91,259.37 L308.38,259.40 L308.85,259.40 L309.32,259.38 L309.79,259.35 L310.26,259.30 L310.73,259.25 L311.20,259.19 L311.67,259.12 L312.14,259.05 L312.61,258.98 L313.08,258.90 L313.55,258.82 L314.02,258.74 L314.49,258.66 L314.96,258.59 L315.43,258.52 L315.90,258.46 L316.37,258.40 L316.84,258.36 L317.31,258.33 L317.78,258.31 L318.24,258.30 L318.71,258.31 L319.18,258.35 L319.65,258.40 L320.12,258.46 L320.59,258.53 L321.06,258.61 L321.53,258.70 L322.00,258.78 L322.47,258.86 L322.94,258.94 L323.41,259.00 L323.88,259.05 L324.35,259.08 L324.82,259.10 L325.29,259.10 L325.76,259.10 L326.23,259.09 L326.70,259.09 L327.17,259.08 L327.64,259.07 L328.11,259.06 L328.58,259.05 L329.05,259.04 L329.52,259.03 L329.99,259.01 L330.46,259.00 L330.93,258.98 L331.40,258.96 L331.87,258.95 L332.34,258.93 L332.81,258.91 L333.28,258.89 L333.75,258.87 L334.22,258.85 L334.69,258.83 L335.16,258.81 L335.63,258.78 L336.10,258.76 L336.57,258.74 L337.04,258.72 L337.51,258.70 L337.98,258.68 L338.45,258.66 L338.92,258.63 L339.39,258.61 L339.86,258.59 L340.33,258.57 L340.80,258.56 L341.27,258.54 L341.74,258.52 L342.21,258.50 L342.68,258.49 L343.15,258.47 L343.61,258.45 L344.08,258.44 L344.55,258.42 L345.02,258.40 L345.49,258.39 L345.96,258.37 L346.43,258.35 L346.90,258.34 L347.37,258.32 L347.84,258.30 L348.31,258.29 L348.78,258.27 L349.25,258.25 L349.72,258.24 L350.19,258.22 L350.66,258.20 L351.13,258.19 L351.60,258.17 L352.07,258.15 L352.54,258.14 L353.01,258.12 L353.48,258.11 L353.95,258.09 L354.42,258.07 L354.89,258.06 L355.36,258.04 L355.83,258.03 L356.30,258.01 L356.77,258.00 L357.24,257.98 L357.71,257.97 L358.18,257.95 L358.65,257.94 L359.12,257.93 L359.59,257.91 L360.06,257.90 L360.53,257.89 L361.00,257.87 L361.47,257.86 L361.94,257.85 L362.41,257.83 L362.88,257.82 L363.35,257.81 L363.82,257.80 L364.29,257.78 L364.76,257.77 L365.23,257.76 L365.70,257.75 L366.17,257.73 L366.64,257.72 L367.11,257.71 L367.58,257.70 L368.05,257.69 L368.52,257.67 L368.98,257.66 L369.45,257.65 L369.92,257.64 L370.39,257.63 L370.86,257.62 L371.33,257.61 L371.80,257.60 L372.27,257.58 L372.74,257.57 L373.21,257.56 L373.68,257.55 L374.15,257.54 L374.62,257.53 L375.09,257.52 L375.56,257.51 L376.03,257.50 L376.50,257.49 L376.97,257.48 L377.44,257.47 L377.91,257.46 L378.38,257.45 L378.85,257.44 L379.32,257.43 L379.79,257.43 L380.26,257.42 L380.73,257.41 L381.20,257.40" fill="none" stroke="#ff8000" stroke-width="1.3" stroke-dasharray="17.8 16.4" clip-path="url(#cb)"/>
<path d="M52.80,279.80 L53.27,279.80 L53.74,279.80 L54.21,279.80 L54.68,279.80 L55.15,279.80 L55.62,279.80 L56.09,279.80 L56.56,279.80 L57.03,279.80 L57.50,279.80 L57.97,279.80 L58.44,279.80 L58.91,279.80 L59.38,279.80 L59.85,279.80 L60.32,279.80 L60.79,279.80 L61.26,279.80 L61.73,279.80 L62.20,279.80 L62.67,279.80 L63.14,279.80 L63.61,279.80 L64.08,279.80 L64.55,279.80 L65.02,279.80 L65.48,279.80 L65.95,279.80 L66.42,279.80 L66.89,279.80 L67.36,279.80 L67.83,279.80 L68.30,279.80 L68.77,279.80 L69.24,279.80 L69.71,279.80 L70.18,279.80 L70.65,279.80 L71.12,279.80 L71.59,279.80 L72.06,279.80 L72.53,279.80 L73.00,279.80 L73.47,279.80 L73.94,279.80 L74.41,279.80 L74.88,279.80 L75.35,279.80 L75.82,279.80 L76.29,279.80 L76.76,279.80 L77.23,279.80 L77.70,279.80 L78.17,279.80 L78.64,279.80 L79.11,279.80 L79.58,279.80 L80.05,279.80 L80.52,279.80 L80.99,279.80 L81.46,279.80 L81.93,279.80 L82.40,279.80 L82.87,279.80 L83.34,279.80 L83.81,279.80 L84.28,279.80 L84.75,279.80 L85.22,279.80 L85.69,279.80 L86.16,279.80 L86.63,279.80 L87.10,279.80 L87.57,279.80 L88.04,279.80 L88.51,279.80 L88.98,279.80 L89.45,279.80 L89.92,279.80 L90.39,279.80 L90.85,279.80 L91.32,279.80 L91.79,279.80 L92.26,279.80 L92.73,279.80 L93.20,279.80 L93.67,279.80 L94.14,279.80 L94.61,279.80 L95.08,279.80 L95.55,279.80 L96.02,279.80 L96.49,279.80 L96.96,279.80 L97.43,279.80 L97.90,279.80 L98.37,279.80 L98.84,279.80 L99.31,279.80 L99.78,279.80 L100.25,279.80 L100.72,279.80 L101.19,279.80 L101.66,279.80 L102.13,279.80 L102.60,279.80 L103.07,279.80 L103.54,279.80 L104.01,279.80 L104.48,279.80 L104.95,279.80 L105.42,279.80 L105.89,279.80 L106.36,279.80 L106.83,279.80 L107.30,279.80 L107.77,279.80 L108.24,279.80 L108.71,279.80 L109.18,279.80 L109.65,279.80 L110.12,279.80 L110.59,279.80 L111.06,279.80 L111.53,279.80 L112.00,279.80 L112.47,279.80 L112.94,279.80 L113.41,279.80 L113.88,279.80 L114.35,279.80 L114.82,279.80 L115.29,279.80 L115.76,279.80 L116.22,279.80 L116.69,279.80 L117.16,279.80 L117.63,279.80 L118.10,279.80 L118.57,279.80 L119.04,279.80 L119.51,279.80 L119.98,279.80 L120.45,279.80 L120.92,279.80 L121.39,279.80 L121.86,279.80 L122.33,279.80 L122.80,279.80 L123.27,279.80 L123.74,279.80 L124.21,279.80 L124.68,279.80 L125.15,279.80 L125.62,279.80 L126.09,279.80 L126.56,279.80 L127.03,279.80 L127.50,279.80 L127.97,279.80 L128.44,279.80 L128.91,279.80 L129.38,279.80 L129.85,279.80 L130.32,279.80 L130.79,279.80 L131.26,279.80 L131.73,279.80 L132.20,279.81 L132.67,279.81 L133.14,279.81 L133.61,279.82 L134.08,279.82 L134.55,279.82 L135.02,279.83 L135.49,279.84 L135.96,279.84 L136.43,279.85 L136.90,279.85 L137.37,279.86 L137.84,279.87 L138.31,279.88 L138.78,279.89 L139.25,279.90 L139.72,279.91 L140.19,279.91 L140.66,279.93 L141.13,279.94 L141.59,279.95 L142.06,279.96 L142.53,279.97 L143.00,279.98 L143.47,279.99 L143.94,280.01 L144.41,280.02 L144.88,280.03 L145.35,280.04 L145.82,280.06 L146.29,280.07 L146.76,280.09 L147.23,280.10 L147.70,280.12 L148.17,280.13 L148.64,280.15 L149.11,280.16 L149.58,280.18 L150.05,280.19 L150.52,280.21 L150.99,280.22 L151.46,280.24 L151.93,280.26 L152.40,280.27 L152.87,280.29 L153.34,280.31 L153.81,280.32 L154.28,280.34 L154.75,280.36 L155.22,280.37 L155.69,280.39 L156.16,280.41 L156.63,280.43 L157.10,280.45 L157.57,280.46 L158.04,280.48 L158.51,280.50 L158.98,280.52 L159.45,280.53 L159.92,280.55 L160.39,280.57 L160.86,280.59 L161.33,280.61 L161.80,280.62 L162.27,280.64 L162.74,280.66 L163.21,280.68 L163.68,280.70 L164.15,280.71 L164.62,280.73 L165.09,280.75 L165.56,280.77 L166.03,280.79 L166.49,280.81 L166.96,280.83 L167.43,280.85 L167.90,280.87 L168.37,280.89 L168.84,280.91 L169.31,280.93 L169.78,280.95 L170.25,280.98 L170.72,281.00 L171.19,281.02 L171.66,281.05 L172.13,281.07 L172.60,281.09 L173.07,281.12 L173.54,281.14 L174.01,281.17 L174.48,281.19 L174.95,281.22 L175.42,281.25 L175.89,281.27 L176.36,281.30 L176.83,281.33 L177.30,281.35 L177.77,281.38 L178.24,281.41 L178.71,281.44 L179.18,281.47 L179.65,281.50 L180.12,281.53 L180.59,281.56 L181.06,281.59 L181.53,281.62 L182.00,281.65 L182.47,281.68 L182.94,281.71 L183.41,281.75 L183.88,281.78 L184.35,281.81 L184.82,281.85 L185.29,281.88 L185.76,281.91 L186.23,281.95 L186.70,281.98 L187.17,282.02 L187.64,282.05 L188.11,282.09 L188.58,282.13 L189.05,282.16 L189.52,282.20 L189.99,282.24 L190.46,282.28 L190.93,282.31 L191.40,282.35 L191.86,282.39 L192.33,282.43 L192.80,282.47 L193.27,282.51 L193.74,282.55 L194.21,282.59 L194.68,282.63 L195.15,282.68 L195.62,282.72 L196.09,282.76 L196.56,282.80 L197.03,282.85 L197.50,282.89 L197.97,282.94 L198.44,282.98 L198.91,283.04 L199.38,283.09 L199.85,283.15 L200.32,283.21 L200.79,283.27 L201.26,283.34 L201.73,283.40 L202.20,283.47 L202.67,283.54 L203.14,283.61 L203.61,283.68 L204.08,283.75 L204.55,283.82 L205.02,283.90 L205.49,283.97 L205.96,284.04 L206.43,284.11 L206.90,284.18 L207.37,284.25 L207.84,284.32 L208.31,284.38 L208.78,284.44 L209.25,284.51 L209.72,284.57 L210.19,284.62 L210.66,284.68 L211.13,284.74 L211.60,284.81 L212.07,284.87 L212.54,284.94 L213.01,285.01 L213.48,285.07 L213.95,285.14 L214.42,285.21 L214.89,285.27 L215.36,285.34 L215.83,285.40 L216.30,285.46 L216.77,285.51 L217.23,285.56 L217.70,285.61 L218.17,285.66 L218.64,285.70 L219.11,285.73 L219.58,285.76 L220.05,285.78 L220.52,285.79 L220.99,285.80 L221.46,285.80 L221.93,285.79 L222.40,285.77 L222.87,285.75 L223.34,285.72 L223.81,285.68 L224.28,285.63 L224.75,285.58 L225.22,285.53 L225.69,285.46 L226.16,285.39 L226.63,285.32 L227.10,285.24 L227.57,285.16 L228.04,285.07 L228.51,284.98 L228.98,284.89 L229.45,284.79 L229.92,284.69 L230.39,284.59 L230.86,284.49 L231.33,284.36 L231.80,284.19 L232.27,284.00 L232.74,283.78 L233.21,283.54 L233.68,283.28 L234.15,283.01 L234.62,282.73 L235.09,282.46 L235.56,282.18 L236.03,281.91 L236.50,281.65 L236.97,281.39 L237.44,281.08 L237.91,280.75 L238.38,280.40 L238.85,280.08 L239.32,279.78 L239.79,279.54 L240.26,279.37 L240.73,279.30 L241.20,279.33 L241.67,279.45 L242.14,279.61 L242.60,279.80 L243.07,280.17 L243.54,280.69 L244.01,281.11 L244.48,281.17 L244.95,280.89 L245.42,280.41 L245.89,279.89 L246.36,279.18 L246.83,278.36 L247.30,277.67 L247.77,277.08 L248.24,276.51 L248.71,275.96 L249.18,275.43 L249.65,274.93 L250.12,274.46 L250.59,274.02 L251.06,273.61 L251.53,273.24 L252.00,272.90 L252.47,272.59 L252.94,272.29 L253.41,272.01 L253.88,271.74 L254.35,271.48 L254.82,271.24 L255.29,271.00 L255.76,270.77 L256.23,270.56 L256.70,270.35 L257.17,270.14 L257.64,269.94 L258.11,269.75 L258.58,269.55 L259.05,269.36 L259.52,269.17 L259.99,268.98 L260.46,268.79 L260.93,268.59 L261.40,268.39 L261.87,268.19 L262.34,268.00 L262.81,267.80 L263.28,267.60 L263.75,267.41 L264.22,267.23 L264.69,267.05 L265.16,266.88 L265.63,266.71 L266.10,266.56 L266.57,266.41 L267.04,266.27 L267.51,266.15 L267.97,266.04 L268.44,265.95 L268.91,265.87 L269.38,265.80 L269.85,265.75 L270.32,265.69 L270.79,265.64 L271.26,265.59 L271.73,265.54 L272.20,265.50 L272.67,265.45 L273.14,265.41 L273.61,265.37 L274.08,265.34 L274.55,265.31 L275.02,265.28 L275.49,265.25 L275.96,265.23 L276.43,265.22 L276.90,265.21 L277.37,265.20 L277.84,265.20 L278.31,265.23 L278.78,265.27 L279.25,265.35 L279.72,265.44 L280.19,265.54 L280.66,265.66 L281.13,265.79 L281.60,265.91 L282.07,266.04 L282.54,266.16 L283.01,266.28 L283.48,266.38 L283.95,266.47 L284.42,266.54 L284.89,266.58 L285.36,266.60 L285.83,266.58 L286.30,266.53 L286.77,266.46 L287.24,266.35 L287.71,266.23 L288.18,266.10 L288.65,265.97 L289.12,265.83 L289.59,265.70 L290.06,265.59 L290.53,265.47 L291.00,265.34 L291.47,265.21 L291.94,265.08 L292.41,264.94 L292.87,264.81 L293.34,264.68 L293.81,264.56 L294.28,264.44 L294.75,264.35 L295.22,264.26 L295.69,264.18 L296.16,264.09 L296.63,264.01 L297.10,263.92 L297.57,263.84 L298.04,263.76 L298.51,263.69 L298.98,263.62 L299.45,263.55 L299.92,263.49 L300.39,263.44 L300.86,263.39 L301.33,263.35 L301.80,263.33 L302.27,263.31 L302.74,263.30 L303.21,263.31 L303.68,263.35 L304.15,263.41 L304.62,263.48 L305.09,263.57 L305.56,263.67 L306.03,263.77 L306.50,263.88 L306.97,263.98 L307.44,264.07 L307.91,264.16 L308.38,264.23 L308.85,264.27 L309.32,264.30 L309.79,264.29 L310.26,264.26 L310.73,264.19 L311.20,264.10 L311.67,263.99 L312.14,263.86 L312.61,263.72 L313.08,263.56 L313.55,263.40 L314.02,263.24 L314.49,263.08 L314.96,262.93 L315.43,262.78 L315.90,262.65 L316.37,262.53 L316.84,262.43 L317.31,262.36 L317.78,262.31 L318.24,262.30 L318.71,262.30 L319.18,262.31 L319.65,262.32 L320.12,262.34 L320.59,262.36 L321.06,262.39 L321.53,262.41 L322.00,262.44 L322.47,262.47 L322.94,262.50 L323.41,262.53 L323.88,262.55 L324.35,262.58 L324.82,262.61 L325.29,262.63 L325.76,262.65 L326.23,262.67 L326.70,262.69 L327.17,262.70 L327.64,262.70 L328.11,262.70 L328.58,262.69 L329.05,262.68 L329.52,262.66 L329.99,262.63 L330.46,262.60 L330.93,262.57 L331.40,262.53 L331.87,262.49 L332.34,262.44 L332.81,262.40 L333.28,262.35 L333.75,262.31 L334.22,262.26 L334.69,262.22 L335.16,262.17 L335.63,262.13 L336.10,262.09 L336.57,262.06 L337.04,262.02 L337.51,261.99 L337.98,261.97 L338.45,261.94 L338.92,261.91 L339.39,261.88 L339.86,261.86 L340.33,261.83 L340.80,261.80 L341.27,261.77 L341.74,261.75 L342.21,261.72 L342.68,261.70 L343.15,261.67 L343.61,261.65 L344.08,261.62 L344.55,261.60 L345.02,261.58 L345.49,261.55 L345.96,261.53 L346.43,261.51 L346.90,261.49 L347.37,261.48 L347.84,261.46 L348.31,261.44 L348.78,261.43 L349.25,261.42 L349.72,261.41 L350.19,261.40 L350.66,261.39 L351.13,261.38 L351.60,261.37 L352.07,261.36 L352.54,261.35 L353.01,261.34 L353.48,261.34 L353.95,261.33 L354.42,261.32 L354.89,261.32 L355.36,261.31 L355.83,261.30 L356.30,261.30 L356.77,261.29 L357.24,261.29 L357.71,261.28 L358.18,261.28 L358.65,261.27 L359.12,261.27 L359.59,261.26 L360.06,261.26 L360.53,261.25 L361.00,261.25 L361.47,261.24 L361.94,261.24 L362.41,261.23 L362.88,261.23 L363.35,261.22 L363.82,261.21 L364.29,261.21 L364.76,261.20 L365.23,261.20 L365.70,261.19 L366.17,261.19 L366.64,261.18 L367.11,261.17 L367.58,261.17 L368.05,261.16 L368.52,261.16 L368.98,261.15 L369.45,261.14 L369.92,261.14 L370.39,261.13 L370.86,261.13 L371.33,261.12 L371.80,261.11 L372.27,261.11 L372.74,261.10 L373.21,261.10 L373.68,261.09 L374.15,261.09 L374.62,261.08 L375.09,261.07 L375.56,261.07 L376.03,261.06 L376.50,261.06 L376.97,261.05 L377.44,261.04 L377.91,261.04 L378.38,261.03 L378.85,261.03 L379.32,261.02 L379.79,261.02 L380.26,261.01 L380.73,261.01 L381.20,261.00" fill="none" stroke="#ff00ff" stroke-width="1.35" stroke-dasharray="1.0 1.2 3.1 1.2" clip-path="url(#cb)"/>
<path d="M52.80,271.70 L53.27,271.70 L53.74,271.70 L54.21,271.70 L54.68,271.70 L55.15,271.70 L55.62,271.70 L56.09,271.70 L56.56,271.70 L57.03,271.70 L57.50,271.70 L57.97,271.70 L58.44,271.70 L58.91,271.70 L59.38,271.70 L59.85,271.70 L60.32,271.70 L60.79,271.70 L61.26,271.70 L61.73,271.70 L62.20,271.70 L62.67,271.70 L63.14,271.70 L63.61,271.70 L64.08,271.70 L64.55,271.70 L65.02,271.70 L65.48,271.70 L65.95,271.70 L66.42,271.70 L66.89,271.70 L67.36,271.70 L67.83,271.70 L68.30,271.70 L68.77,271.70 L69.24,271.70 L69.71,271.70 L70.18,271.70 L70.65,271.70 L71.12,271.70 L71.59,271.70 L72.06,271.70 L72.53,271.70 L73.00,271.70 L73.47,271.70 L73.94,271.70 L74.41,271.70 L74.88,271.70 L75.35,271.70 L75.82,271.70 L76.29,271.70 L76.76,271.70 L77.23,271.70 L77.70,271.70 L78.17,271.70 L78.64,271.70 L79.11,271.70 L79.58,271.70 L80.05,271.70 L80.52,271.70 L80.99,271.70 L81.46,271.70 L81.93,271.70 L82.40,271.70 L82.87,271.70 L83.34,271.70 L83.81,271.70 L84.28,271.70 L84.75,271.70 L85.22,271.70 L85.69,271.70 L86.16,271.70 L86.63,271.70 L87.10,271.70 L87.57,271.70 L88.04,271.70 L88.51,271.70 L88.98,271.70 L89.45,271.70 L89.92,271.70 L90.39,271.70 L90.85,271.70 L91.32,271.70 L91.79,271.70 L92.26,271.70 L92.73,271.70 L93.20,271.70 L93.67,271.70 L94.14,271.70 L94.61,271.70 L95.08,271.70 L95.55,271.70 L96.02,271.70 L96.49,271.70 L96.96,271.70 L97.43,271.70 L97.90,271.70 L98.37,271.70 L98.84,271.70 L99.31,271.70 L99.78,271.70 L100.25,271.70 L100.72,271.70 L101.19,271.70 L101.66,271.70 L102.13,271.70 L102.60,271.70 L103.07,271.70 L103.54,271.70 L104.01,271.70 L104.48,271.70 L104.95,271.70 L105.42,271.70 L105.89,271.70 L106.36,271.70 L106.83,271.70 L107.30,271.70 L107.77,271.70 L108.24,271.70 L108.71,271.70 L109.18,271.70 L109.65,271.70 L110.12,271.70 L110.59,271.70 L111.06,271.70 L111.53,271.70 L112.00,271.70 L112.47,271.70 L112.94,271.70 L113.41,271.70 L113.88,271.70 L114.35,271.70 L114.82,271.70 L115.29,271.70 L115.76,271.70 L116.22,271.70 L116.69,271.70 L117.16,271.70 L117.63,271.70 L118.10,271.70 L118.57,271.70 L119.04,271.70 L119.51,271.70 L119.98,271.70 L120.45,271.70 L120.92,271.70 L121.39,271.70 L121.86,271.70 L122.33,271.70 L122.80,271.70 L123.27,271.70 L123.74,271.70 L124.21,271.70 L124.68,271.70 L125.15,271.70 L125.62,271.70 L126.09,271.70 L126.56,271.70 L127.03,271.70 L127.50,271.70 L127.97,271.70 L128.44,271.70 L128.91,271.70 L129.38,271.70 L129.85,271.70 L130.32,271.70 L130.79,271.70 L131.26,271.70 L131.73,271.70 L132.20,271.70 L132.67,271.70 L133.14,271.70 L133.61,271.70 L134.08,271.70 L134.55,271.71 L135.02,271.71 L135.49,271.71 L135.96,271.71 L136.43,271.71 L136.90,271.71 L137.37,271.71 L137.84,271.72 L138.31,271.72 L138.78,271.72 L139.25,271.72 L139.72,271.72 L140.19,271.73 L140.66,271.73 L141.13,271.73 L141.59,271.73 L142.06,271.74 L142.53,271.74 L143.00,271.74 L143.47,271.75 L143.94,271.75 L144.41,271.75 L144.88,271.76 L145.35,271.76 L145.82,271.76 L146.29,271.77 L146.76,271.77 L147.23,271.78 L147.70,271.78 L148.17,271.78 L148.64,271.79 L149.11,271.79 L149.58,271.80 L150.05,271.80 L150.52,271.81 L150.99,271.81 L151.46,271.82 L151.93,271.82 L152.40,271.83 L152.87,271.83 L153.34,271.84 L153.81,271.84 L154.28,271.85 L154.75,271.85 L155.22,271.86 L155.69,271.86 L156.16,271.87 L156.63,271.88 L157.10,271.88 L157.57,271.89 L158.04,271.89 L158.51,271.90 L158.98,271.91 L159.45,271.91 L159.92,271.92 L160.39,271.93 L160.86,271.93 L161.33,271.94 L161.80,271.95 L162.27,271.95 L162.74,271.96 L163.21,271.97 L163.68,271.98 L164.15,271.98 L164.62,271.99 L165.09,272.00 L165.56,272.01 L166.03,272.01 L166.49,272.02 L166.96,272.03 L167.43,272.04 L167.90,272.05 L168.37,272.05 L168.84,272.06 L169.31,272.07 L169.78,272.08 L170.25,272.09 L170.72,272.10 L171.19,272.11 L171.66,272.11 L172.13,272.12 L172.60,272.13 L173.07,272.14 L173.54,272.15 L174.01,272.16 L174.48,272.17 L174.95,272.18 L175.42,272.19 L175.89,272.20 L176.36,272.21 L176.83,272.22 L177.30,272.23 L177.77,272.24 L178.24,272.25 L178.71,272.26 L179.18,272.27 L179.65,272.28 L180.12,272.29 L180.59,272.30 L181.06,272.31 L181.53,272.32 L182.00,272.34 L182.47,272.35 L182.94,272.37 L183.41,272.39 L183.88,272.41 L184.35,272.43 L184.82,272.45 L185.29,272.48 L185.76,272.50 L186.23,272.53 L186.70,272.56 L187.17,272.58 L187.64,272.61 L188.11,272.64 L188.58,272.68 L189.05,272.71 L189.52,272.74 L189.99,272.77 L190.46,272.81 L190.93,272.84 L191.40,272.87 L191.86,272.91 L192.33,272.94 L192.80,272.98 L193.27,273.02 L193.74,273.05 L194.21,273.09 L194.68,273.12 L195.15,273.16 L195.62,273.19 L196.09,273.23 L196.56,273.26 L197.03,273.30 L197.50,273.33 L197.97,273.36 L198.44,273.40 L198.91,273.43 L199.38,273.46 L199.85,273.49 L200.32,273.52 L200.79,273.55 L201.26,273.59 L201.73,273.62 L202.20,273.66 L202.67,273.69 L203.14,273.73 L203.61,273.77 L204.08,273.81 L204.55,273.85 L205.02,273.89 L205.49,273.93 L205.96,273.97 L206.43,274.01 L206.90,274.05 L207.37,274.09 L207.84,274.13 L208.31,274.17 L208.78,274.21 L209.25,274.25 L209.72,274.30 L210.19,274.34 L210.66,274.37 L211.13,274.41 L211.60,274.45 L212.07,274.49 L212.54,274.52 L213.01,274.56 L213.48,274.59 L213.95,274.62 L214.42,274.66 L214.89,274.69 L215.36,274.71 L215.83,274.74 L216.30,274.77 L216.77,274.79 L217.23,274.81 L217.70,274.83 L218.17,274.85 L218.64,274.86 L219.11,274.87 L219.58,274.88 L220.05,274.89 L220.52,274.90 L220.99,274.90 L221.46,274.90 L221.93,274.89 L222.40,274.88 L222.87,274.86 L223.34,274.83 L223.81,274.80 L224.28,274.76 L224.75,274.71 L225.22,274.66 L225.69,274.61 L226.16,274.55 L226.63,274.48 L227.10,274.41 L227.57,274.34 L228.04,274.26 L228.51,274.18 L228.98,274.10 L229.45,274.01 L229.92,273.92 L230.39,273.83 L230.86,273.73 L231.33,273.63 L231.80,273.54 L232.27,273.44 L232.74,273.33 L233.21,273.23 L233.68,273.13 L234.15,273.02 L234.62,272.92 L235.09,272.80 L235.56,272.66 L236.03,272.48 L236.50,272.29 L236.97,272.08 L237.44,271.87 L237.91,271.65 L238.38,271.43 L238.85,271.21 L239.32,271.01 L239.79,270.83 L240.26,270.67 L240.73,270.53 L241.20,270.43 L241.67,270.36 L242.14,270.30 L242.60,270.25 L243.07,270.21 L243.54,270.20 L244.01,270.28 L244.48,270.43 L244.95,270.56 L245.42,270.59 L245.89,270.45 L246.36,270.19 L246.83,269.90 L247.30,269.62 L247.77,269.32 L248.24,268.99 L248.71,268.65 L249.18,268.30 L249.65,267.98 L250.12,267.69 L250.59,267.41 L251.06,267.15 L251.53,266.88 L252.00,266.62 L252.47,266.37 L252.94,266.12 L253.41,265.88 L253.88,265.64 L254.35,265.40 L254.82,265.18 L255.29,264.96 L255.76,264.74 L256.23,264.54 L256.70,264.34 L257.17,264.15 L257.64,263.96 L258.11,263.78 L258.58,263.60 L259.05,263.43 L259.52,263.25 L259.99,263.07 L260.46,262.90 L260.93,262.73 L261.40,262.56 L261.87,262.40 L262.34,262.24 L262.81,262.09 L263.28,261.94 L263.75,261.80 L264.22,261.66 L264.69,261.54 L265.16,261.42 L265.63,261.31 L266.10,261.22 L266.57,261.13 L267.04,261.05 L267.51,260.99 L267.97,260.93 L268.44,260.87 L268.91,260.81 L269.38,260.75 L269.85,260.69 L270.32,260.64 L270.79,260.59 L271.26,260.54 L271.73,260.49 L272.20,260.44 L272.67,260.40 L273.14,260.36 L273.61,260.33 L274.08,260.30 L274.55,260.27 L275.02,260.25 L275.49,260.23 L275.96,260.21 L276.43,260.20 L276.90,260.20 L277.37,260.20 L277.84,260.21 L278.31,260.21 L278.78,260.22 L279.25,260.24 L279.72,260.25 L280.19,260.27 L280.66,260.29 L281.13,260.31 L281.60,260.33 L282.07,260.35 L282.54,260.38 L283.01,260.40 L283.48,260.43 L283.95,260.47 L284.42,260.52 L284.89,260.57 L285.36,260.63 L285.83,260.70 L286.30,260.76 L286.77,260.82 L287.24,260.87 L287.71,260.92 L288.18,260.96 L288.65,260.98 L289.12,261.00 L289.59,260.99 L290.06,260.94 L290.53,260.86 L291.00,260.75 L291.47,260.61 L291.94,260.46 L292.41,260.30 L292.87,260.14 L293.34,259.99 L293.81,259.85 L294.28,259.72 L294.75,259.59 L295.22,259.45 L295.69,259.30 L296.16,259.16 L296.63,259.01 L297.10,258.88 L297.57,258.76 L298.04,258.65 L298.51,258.56 L298.98,258.49 L299.45,258.43 L299.92,258.37 L300.39,258.32 L300.86,258.27 L301.33,258.22 L301.80,258.18 L302.27,258.15 L302.74,258.12 L303.21,258.11 L303.68,258.10 L304.15,258.11 L304.62,258.15 L305.09,258.22 L305.56,258.29 L306.03,258.38 L306.50,258.48 L306.97,258.58 L307.44,258.67 L307.91,258.75 L308.38,258.82 L308.85,258.87 L309.32,258.90 L309.79,258.89 L310.26,258.86 L310.73,258.80 L311.20,258.72 L311.67,258.62 L312.14,258.50 L312.61,258.38 L313.08,258.24 L313.55,258.09 L314.02,257.95 L314.49,257.80 L314.96,257.66 L315.43,257.53 L315.90,257.41 L316.37,257.31 L316.84,257.22 L317.31,257.15 L317.78,257.11 L318.24,257.10 L318.71,257.10 L319.18,257.11 L319.65,257.12 L320.12,257.14 L320.59,257.16 L321.06,257.19 L321.53,257.21 L322.00,257.24 L322.47,257.27 L322.94,257.30 L323.41,257.33 L323.88,257.35 L324.35,257.38 L324.82,257.41 L325.29,257.43 L325.76,257.45 L326.23,257.47 L326.70,257.49 L327.17,257.50 L327.64,257.50 L328.11,257.50 L328.58,257.49 L329.05,257.48 L329.52,257.46 L329.99,257.44 L330.46,257.41 L330.93,257.38 L331.40,257.35 L331.87,257.31 L332.34,257.27 L332.81,257.23 L333.28,257.19 L333.75,257.15 L334.22,257.11 L334.69,257.08 L335.16,257.04 L335.63,257.00 L336.10,256.97 L336.57,256.94 L337.04,256.92 L337.51,256.90 L337.98,256.88 L338.45,256.86 L338.92,256.84 L339.39,256.82 L339.86,256.81 L340.33,256.79 L340.80,256.77 L341.27,256.76 L341.74,256.75 L342.21,256.73 L342.68,256.72 L343.15,256.70 L343.61,256.69 L344.08,256.68 L344.55,256.66 L345.02,256.65 L345.49,256.64 L345.96,256.63 L346.43,256.61 L346.90,256.60 L347.37,256.58 L347.84,256.57 L348.31,256.56 L348.78,256.54 L349.25,256.53 L349.72,256.51 L350.19,256.49 L350.66,256.48 L351.13,256.46 L351.60,256.44 L352.07,256.42 L352.54,256.40 L353.01,256.39 L353.48,256.37 L353.95,256.35 L354.42,256.33 L354.89,256.31 L355.36,256.29 L355.83,256.27 L356.30,256.25 L356.77,256.23 L357.24,256.21 L357.71,256.19 L358.18,256.17 L358.65,256.15 L359.12,256.13 L359.59,256.11 L360.06,256.09 L360.53,256.07 L361.00,256.05 L361.47,256.03 L361.94,256.01 L362.41,256.00 L362.88,255.98 L363.35,255.96 L363.82,255.94 L364.29,255.93 L364.76,255.91 L365.23,255.89 L365.70,255.88 L366.17,255.86 L366.64,255.84 L367.11,255.83 L367.58,255.81 L368.05,255.80 L368.52,255.78 L368.98,255.76 L369.45,255.75 L369.92,255.73 L370.39,255.72 L370.86,255.70 L371.33,255.69 L371.80,255.67 L372.27,255.66 L372.74,255.64 L373.21,255.63 L373.68,255.61 L374.15,255.60 L374.62,255.59 L375.09,255.57 L375.56,255.56 L376.03,255.54 L376.50,255.53 L376.97,255.52 L377.44,255.50 L377.91,255.49 L378.38,255.48 L378.85,255.46 L379.32,255.45 L379.79,255.44 L380.26,255.42 L380.73,255.41 L381.20,255.40" fill="none" stroke="#0000ff" stroke-width="1.4" stroke-dasharray="1.3 0.95" clip-path="url(#cb)"/>
<rect x="52.5" y="37.5" width="336.0" height="208.0" fill="none" stroke="#d0d0d0" stroke-width="1"/>
<rect x="45.5" y="252.3" width="343.0" height="33.8" fill="none" stroke="#d0d0d0" stroke-width="1"/>
<path d="M59.50,38.00 v2.50 M59.50,245.00 v-2.50 M52.50,252.80 v2.50 M52.50,285.60 v-2.50 M139.50,38.00 v2.50 M139.50,245.00 v-2.50 M134.50,252.80 v2.50 M134.50,285.60 v-2.50 M220.50,38.00 v2.50 M220.50,245.00 v-2.50 M217.50,252.80 v2.50 M217.50,285.60 v-2.50 M301.50,38.00 v2.50 M301.50,245.00 v-2.50 M299.50,252.80 v2.50 M299.50,285.60 v-2.50 M381.50,38.00 v2.50 M381.50,245.00 v-2.50 M381.50,252.80 v2.50 M381.50,285.60 v-2.50 M53.00,224.50 h2.50 M53.00,201.50 h2.50 M53.00,171.50 h2.50 M53.00,148.50 h2.50 M53.00,126.50 h2.50 M53.00,96.50 h2.50 M53.00,73.50 h2.50 M53.00,50.50 h2.50 M388.00,73.50 h-2.50 M388.00,96.50 h-2.50 M388.00,148.50 h-2.50 M388.00,171.50 h-2.50 M388.00,224.50 h-2.50 M46.00,255.50 h1.80 M46.00,261.50 h1.80 M388.00,256.50 h-1.80 M388.00,272.50 h-1.80" fill="none" stroke="#b4b4b4" stroke-width="1"/>
<path d="M83.50,38.00 v1.00 M83.50,245.00 v-1.00 M77.50,252.80 v1.00 M97.50,38.00 v1.00 M97.50,245.00 v-1.00 M91.50,252.80 v1.00 M107.50,38.00 v1.00 M107.50,245.00 v-1.00 M102.50,252.80 v1.00 M115.50,38.00 v1.00 M115.50,245.00 v-1.00 M110.50,252.80 v1.00 M122.50,38.00 v1.00 M122.50,245.00 v-1.00 M116.50,252.80 v1.00 M127.50,38.00 v1.00 M127.50,245.00 v-1.00 M122.50,252.80 v1.00 M132.50,38.00 v1.00 M132.50,245.00 v-1.00 M126.50,252.80 v1.00 M136.50,38.00 v1.00 M136.50,245.00 v-1.00 M131.50,252.80 v1.00 M164.50,38.00 v1.00 M164.50,245.00 v-1.00 M159.50,252.80 v1.00 M178.50,38.00 v1.00 M178.50,245.00 v-1.00 M174.50,252.80 v1.00 M188.50,38.00 v1.00 M188.50,245.00 v-1.00 M184.50,252.80 v1.00 M196.50,38.00 v1.00 M196.50,245.00 v-1.00 M192.50,252.80 v1.00 M202.50,38.00 v1.00 M202.50,245.00 v-1.00 M198.50,252.80 v1.00 M208.50,38.00 v1.00 M208.50,245.00 v-1.00 M204.50,252.80 v1.00 M212.50,38.00 v1.00 M212.50,245.00 v-1.00 M209.50,252.80 v1.00 M216.50,38.00 v1.00 M216.50,245.00 v-1.00 M213.50,252.80 v1.00 M244.50,38.00 v1.00 M244.50,245.00 v-1.00 M241.50,252.80 v1.00 M259.50,38.00 v1.00 M259.50,245.00 v-1.00 M256.50,252.80 v1.00 M269.50,38.00 v1.00 M269.50,245.00 v-1.00 M266.50,252.80 v1.00 M276.50,38.00 v1.00 M276.50,245.00 v-1.00 M274.50,252.80 v1.00 M283.50,38.00 v1.00 M283.50,245.00 v-1.00 M280.50,252.80 v1.00 M288.50,38.00 v1.00 M288.50,245.00 v-1.00 M286.50,252.80 v1.00 M293.50,38.00 v1.00 M293.50,245.00 v-1.00 M291.50,252.80 v1.00 M297.50,38.00 v1.00 M297.50,245.00 v-1.00 M295.50,252.80 v1.00 M325.50,38.00 v1.00 M325.50,245.00 v-1.00 M323.50,252.80 v1.00 M339.50,38.00 v1.00 M339.50,245.00 v-1.00 M338.50,252.80 v1.00 M349.50,38.00 v1.00 M349.50,245.00 v-1.00 M348.50,252.80 v1.00 M357.50,38.00 v1.00 M357.50,245.00 v-1.00 M356.50,252.80 v1.00 M364.50,38.00 v1.00 M364.50,245.00 v-1.00 M362.50,252.80 v1.00 M369.50,38.00 v1.00 M369.50,245.00 v-1.00 M368.50,252.80 v1.00 M374.50,38.00 v1.00 M374.50,245.00 v-1.00 M373.50,252.80 v1.00 M378.50,38.00 v1.00 M378.50,245.00 v-1.00 M377.50,252.80 v1.00" fill="none" stroke="#5a5a5a" stroke-width="1"/>
<path d="M53.00,188.50 h1.00 M53.00,178.50 h1.00 M53.00,165.50 h1.00 M53.00,160.50 h1.00 M53.00,156.50 h1.00 M53.00,152.50 h1.00 M53.00,112.50 h1.00 M53.00,103.50 h1.00 M53.00,90.50 h1.00 M53.00,85.50 h1.00 M53.00,80.50 h1.00 M53.00,76.50 h1.00" fill="none" stroke="#8c8c8c" stroke-width="1"/>
<text class="t" x="51.2" y="34.2" text-anchor="start">10<tspan class="s" dx="0.3" dy="-3.7" font-size="7px">−4</tspan></text>
<text class="t" x="140.1" y="34.2" text-anchor="middle" letter-spacing="0.3">0.001</text>
<text class="t" x="220.8" y="34.2" text-anchor="middle" letter-spacing="0.3">0.01</text>
<text class="t" x="301.4" y="34.2" text-anchor="middle" letter-spacing="0.3">0.1</text>
<text class="t" x="381.9" y="34.2" text-anchor="middle">1</text>
<text class="t" x="52.2" y="294.5" text-anchor="middle">0.0001</text>
<text class="t" x="135.0" y="294.5" text-anchor="middle" letter-spacing="0.3">0.001</text>
<text class="t" x="217.2" y="294.5" text-anchor="middle" letter-spacing="0.3">0.01</text>
<text class="t" x="299.2" y="294.5" text-anchor="middle" letter-spacing="0.3">0.1</text>
<text class="t" x="381.2" y="294.5" text-anchor="middle">1</text>
<text class="t" y="54.4"><tspan x="25.8">2</tspan><tspan x="34.2" dy="1.4" text-anchor="middle" font-size="11.6px">×</tspan><tspan x="38.3" dy="-1.4">10</tspan><tspan class="s" x="47.3" dy="-3.6" font-size="7px">4</tspan></text>
<text class="t" y="77.2"><tspan x="25.8">1</tspan><tspan x="34.2" dy="1.4" text-anchor="middle" font-size="11.6px">×</tspan><tspan x="38.3" dy="-1.4">10</tspan><tspan class="s" x="47.3" dy="-3.6" font-size="7px">4</tspan></text>
<text class="t" x="51.4" y="99.5" text-anchor="end">5000</text>
<text class="t" x="51.4" y="129.5" text-anchor="end">2000</text>
<text class="t" x="51.4" y="152.2" text-anchor="end">1000</text>
<text class="t" x="51.4" y="175.0" text-anchor="end">500</text>
<text class="t" x="51.4" y="205.0" text-anchor="end">200</text>
<text class="t" x="51.4" y="227.8" text-anchor="end">100</text>
<text class="t" x="390.0" y="76.0" text-anchor="start">10<tspan dx="1.3">000</tspan></text>
<text class="t" x="390.0" y="98.7" text-anchor="start">5000</text>
<text class="t" x="390.0" y="151.4" text-anchor="start">1000</text>
<text class="t" x="390.0" y="174.2" text-anchor="start">500</text>
<text class="t" x="390.0" y="226.9" text-anchor="start">100</text>
<text class="t" x="44.3" y="257.1" text-anchor="end">12</text>
<text class="t" x="44.3" y="263.4" text-anchor="end">5</text>
<text class="t" x="390.0" y="258.9" text-anchor="start">10</text>
<text class="t" x="390.0" y="275.4" text-anchor="start">1</text>
<text class="a" x="213.7" y="304.6" text-anchor="middle">k[h/Mpc]</text>
<text class="a" style="font-size:10.8px" transform="translate(9.5,124.0) scale(0.9,1) rotate(-90)" text-anchor="middle">P(k)[(Mpc/h)<tspan font-size="6.8px" dy="-4.6">3</tspan><tspan dy="4.6">]</tspan></text>
<text class="a" style="font-size:10.3px" transform="translate(9.6,273) rotate(-90)" text-anchor="middle">ΔP(k)</text>
<text class="l" x="193.2" y="153.9">w=−1.0</text>
<path d="M74.6,166.4 H82.6" stroke="#ff0000" stroke-width="1.3" fill="none" stroke-dasharray="1.6 0.55"/>
<text class="l" x="175" y="169.8"><tspan font-style="italic">N</tspan><tspan font-size="6.8px" font-style="normal" dy="1.9" dx="-0.4" style="font-variant-ligatures:none">eff</tspan><tspan dy="-1.9">=2.0, h=0.6226, </tspan><tspan font-style="italic">A</tspan><tspan font-size="6.4px" font-style="italic" dy="1.6">s</tspan><tspan font-size="7px" dy="-5.0">9</tspan><tspan dy="3.4">=2.12</tspan></text>
<path d="M74.6,182.9 H82.6" stroke="#ff8000" stroke-width="1.3" fill="none" stroke-dasharray="3.4 1.2"/>
<text class="l" x="175" y="186.3"><tspan font-style="italic">N</tspan><tspan font-size="6.8px" font-style="normal" dy="1.9" dx="-0.4" style="font-variant-ligatures:none">eff</tspan><tspan dy="-1.9">=2.5, h=0.6464, </tspan><tspan font-style="italic">A</tspan><tspan font-size="6.4px" font-style="italic" dy="1.6">s</tspan><tspan font-size="7px" dy="-5.0">9</tspan><tspan dy="3.4">=2.16</tspan></text>
<path d="M74.6,199.4 H82.6" stroke="#00ff00" stroke-width="1.3" fill="none"/>
<text class="l" x="175" y="202.8"><tspan font-style="italic">N</tspan><tspan font-size="6.8px" font-style="normal" dy="1.9" dx="-0.4" style="font-variant-ligatures:none">eff</tspan><tspan dy="-1.9">=3.046, h=0.6715, </tspan><tspan font-style="italic">A</tspan><tspan font-size="6.4px" font-style="italic" dy="1.6">s</tspan><tspan font-size="7px" dy="-5.0">9</tspan><tspan dy="3.4">=2.21</tspan></text>
<path d="M74.6,215.9 H82.6" stroke="#ff00ff" stroke-width="1.3" fill="none" stroke-dasharray="0.7 0.9 1.5 0.9"/>
<text class="l" x="175" y="219.3"><tspan font-style="italic">N</tspan><tspan font-size="6.8px" font-style="normal" dy="1.9" dx="-0.4" style="font-variant-ligatures:none">eff</tspan><tspan dy="-1.9">=3.5, h=0.6917, </tspan><tspan font-style="italic">A</tspan><tspan font-size="6.4px" font-style="italic" dy="1.6">s</tspan><tspan font-size="7px" dy="-5.0">9</tspan><tspan dy="3.4">=2.22</tspan></text>
<path d="M74.6,232.4 H82.6" stroke="#0000ff" stroke-width="1.3" fill="none" stroke-dasharray="1.1 1.1"/>
<text class="l" x="175" y="235.8"><tspan font-style="italic">N</tspan><tspan font-size="6.8px" font-style="normal" dy="1.9" dx="-0.4" style="font-variant-ligatures:none">eff</tspan><tspan dy="-1.9">=4.0, h=0.7132, </tspan><tspan font-style="italic">A</tspan><tspan font-size="6.4px" font-style="italic" dy="1.6">s</tspan><tspan font-size="7px" dy="-5.0">9</tspan><tspan dy="3.4">=2.26</tspan></text>
</svg></body></html>
